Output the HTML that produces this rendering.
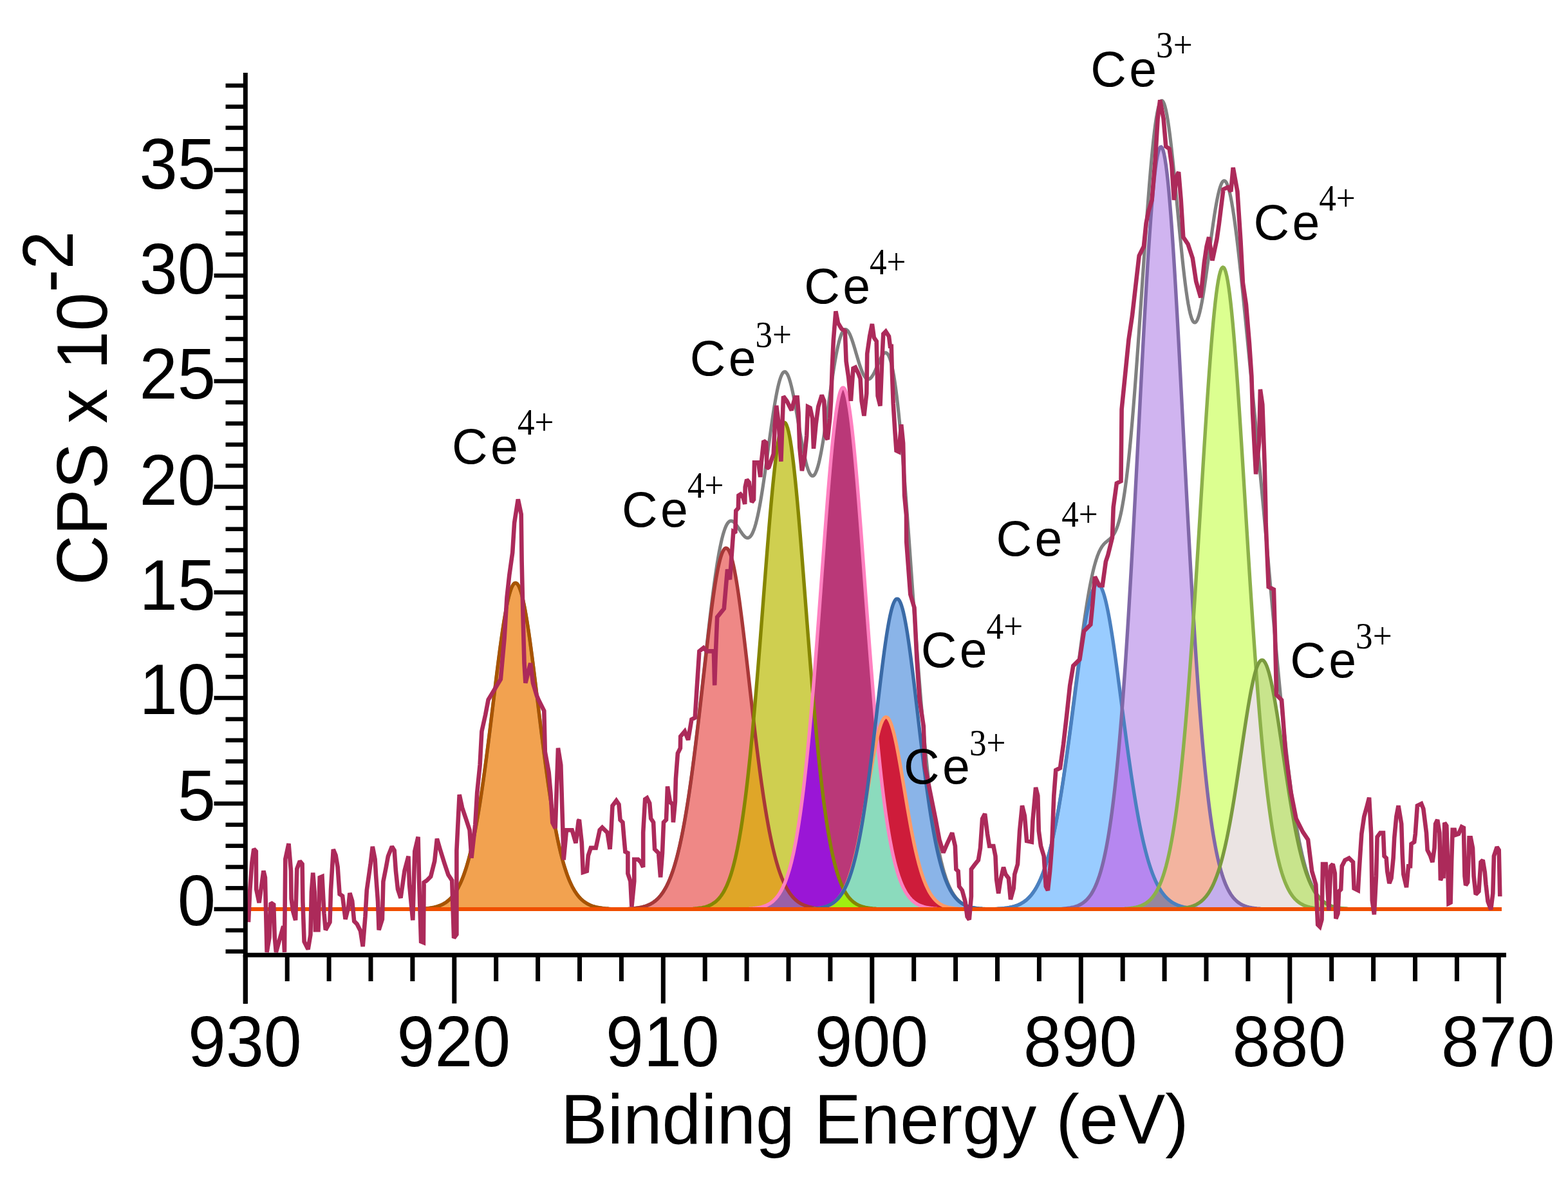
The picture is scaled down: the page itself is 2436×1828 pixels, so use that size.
<!DOCTYPE html>
<html><head><meta charset="utf-8"><title>XPS Ce 3d</title>
<style>html,body{margin:0;padding:0;background:#fff;width:2436px;height:1828px;overflow:hidden}svg{display:block}</style>
</head><body>
<svg width="2436" height="1828" viewBox="0 0 2436 1828">
<rect width="2436" height="1828" fill="#fff"/>
<g shape-rendering="crispEdges"><path fill="#F2A250" d="M664,1410.7 665.5,1410.6 667,1410.4 668.5,1410.2 670,1409.9 671.5,1409.7 673,1409.4 674.5,1409.1 676,1408.7 677.5,1408.3 679,1407.9 680.5,1407.4 682,1406.9 683.5,1406.4 685,1405.7 686.5,1405.1 688,1404.3 689.5,1403.5 691,1402.6 692.5,1401.7 694,1400.6 695.5,1399.4 697,1398.2 698.5,1396.8 700,1395.4 701.5,1393.8 703,1392 704.5,1390.1 706,1388.1 707.5,1385.9 709,1383.6 710.5,1381.1 712,1378.4 713.5,1375.4 715,1372.3 716.5,1369 718,1365.4 719.5,1361.6 721,1357.5 722.5,1353.2 724,1348.6 725.5,1343.7 727,1338.6 728.5,1333.1 730,1327.3 731.5,1321.2 733,1314.8 734.5,1308 736,1300.9 737.5,1293.5 739,1285.7 740.5,1277.6 742,1269.1 743.5,1260.3 745,1251.1 746.5,1241.6 748,1231.7 749.5,1221.6 751,1211.1 752.5,1200.3 754,1189.3 755.5,1178 757,1166.4 758.5,1154.7 760,1142.7 761.5,1130.6 763,1118.4 764.5,1106.1 766,1093.7 767.5,1081.4 769,1069.1 770.5,1056.8 772,1044.7 773.5,1032.8 775,1021.1 776.5,1009.7 778,998.6 779.5,988 781,977.7 782.5,968 784,958.8 785.5,950.2 787,942.2 788.5,934.9 790,928.4 791.5,922.6 793,917.6 794.5,913.4 796,910.1 797.5,907.6 799,906 800.5,905.4 802,905.6 803.5,906.7 805,908.7 806.5,911.6 808,915.4 809.5,920 811,925.4 812.5,931.5 814,938.5 815.5,946.1 817,954.4 818.5,963.3 820,972.8 821.5,982.7 823,993.2 824.5,1004.1 826,1015.3 827.5,1026.9 829,1038.7 830.5,1050.7 832,1062.9 833.5,1075.1 835,1087.5 836.5,1099.8 838,1112.2 839.5,1124.4 841,1136.6 842.5,1148.6 844,1160.5 845.5,1172.2 847,1183.6 848.5,1194.8 850,1205.7 851.5,1216.3 853,1226.6 854.5,1236.7 856,1246.3 857.5,1255.7 859,1264.7 860.5,1273.3 862,1281.7 863.5,1289.6 865,1297.2 866.5,1304.5 868,1311.4 869.5,1318 871,1324.3 872.5,1330.2 874,1335.9 875.5,1341.2 877,1346.2 878.5,1350.9 880,1355.4 881.5,1359.6 883,1363.5 884.5,1367.2 886,1370.7 887.5,1373.9 889,1376.9 890.5,1379.7 892,1382.3 893.5,1384.8 895,1387 896.5,1389.1 898,1391.1 899.5,1392.9 901,1394.6 902.5,1396.1 904,1397.5 905.5,1398.8 907,1400 908.5,1401.1 910,1402.1 911.5,1403.1 913,1403.9 914.5,1404.7 916,1405.4 917.5,1406.1 919,1406.7 920.5,1407.2 922,1407.7 923.5,1408.1 925,1408.5 926.5,1408.9 928,1409.2 929.5,1409.5 931,1409.8 932.5,1410 934,1410.3 935.5,1410.5 937,1410.6 937,1412.1 935.5,1412.1 934,1412.1 932.5,1412.1 931,1412.1 929.5,1412.1 928,1412.1 926.5,1412.1 925,1412.1 923.5,1412.1 922,1412.1 920.5,1412.1 919,1412.1 917.5,1412.1 916,1412.1 914.5,1412.1 913,1412.1 911.5,1412.1 910,1412.1 908.5,1412.1 907,1412.1 905.5,1412.1 904,1412.1 902.5,1412.1 901,1412.1 899.5,1412.1 898,1412.1 896.5,1412.1 895,1412.1 893.5,1412.1 892,1412.1 890.5,1412.1 889,1412.1 887.5,1412.1 886,1412.1 884.5,1412.1 883,1412.1 881.5,1412.1 880,1412.1 878.5,1412.1 877,1412.1 875.5,1412.1 874,1412.1 872.5,1412.1 871,1412.1 869.5,1412.1 868,1412.1 866.5,1412.1 865,1412.1 863.5,1412.1 862,1412.1 860.5,1412.1 859,1412.1 857.5,1412.1 856,1412.1 854.5,1412.1 853,1412.1 851.5,1412.1 850,1412.1 848.5,1412.1 847,1412.1 845.5,1412.1 844,1412.1 842.5,1412.1 841,1412.1 839.5,1412.1 838,1412.1 836.5,1412.1 835,1412.1 833.5,1412.1 832,1412.1 830.5,1412.1 829,1412.1 827.5,1412.1 826,1412.1 824.5,1412.1 823,1412.1 821.5,1412.1 820,1412.1 818.5,1412.1 817,1412.1 815.5,1412.1 814,1412.1 812.5,1412.1 811,1412.1 809.5,1412.1 808,1412.1 806.5,1412.1 805,1412.1 803.5,1412.1 802,1412.1 800.5,1412.1 799,1412.1 797.5,1412.1 796,1412.1 794.5,1412.1 793,1412.1 791.5,1412.1 790,1412.1 788.5,1412.1 787,1412.1 785.5,1412.1 784,1412.1 782.5,1412.1 781,1412.1 779.5,1412.1 778,1412.1 776.5,1412.1 775,1412.1 773.5,1412.1 772,1412.1 770.5,1412.1 769,1412.1 767.5,1412.1 766,1412.1 764.5,1412.1 763,1412.1 761.5,1412.1 760,1412.1 758.5,1412.1 757,1412.1 755.5,1412.1 754,1412.1 752.5,1412.1 751,1412.1 749.5,1412.1 748,1412.1 746.5,1412.1 745,1412.1 743.5,1412.1 742,1412.1 740.5,1412.1 739,1412.1 737.5,1412.1 736,1412.1 734.5,1412.1 733,1412.1 731.5,1412.1 730,1412.1 728.5,1412.1 727,1412.1 725.5,1412.1 724,1412.1 722.5,1412.1 721,1412.1 719.5,1412.1 718,1412.1 716.5,1412.1 715,1412.1 713.5,1412.1 712,1412.1 710.5,1412.1 709,1412.1 707.5,1412.1 706,1412.1 704.5,1412.1 703,1412.1 701.5,1412.1 700,1412.1 698.5,1412.1 697,1412.1 695.5,1412.1 694,1412.1 692.5,1412.1 691,1412.1 689.5,1412.1 688,1412.1 686.5,1412.1 685,1412.1 683.5,1412.1 682,1412.1 680.5,1412.1 679,1412.1 677.5,1412.1 676,1412.1 674.5,1412.1 673,1412.1 671.5,1412.1 670,1412.1 668.5,1412.1 667,1412.1 665.5,1412.1 664,1412.1Z"/><path fill="#EF8886" d="M985,1410.8 986.5,1410.6 988,1410.4 989.5,1410.2 991,1410 992.5,1409.8 994,1409.5 995.5,1409.2 997,1408.9 998.5,1408.5 1000,1408.1 1001.5,1407.7 1003,1407.2 1004.5,1406.7 1006,1406.1 1007.5,1405.5 1009,1404.8 1010.5,1404.1 1012,1403.2 1013.5,1402.4 1015,1401.4 1016.5,1400.3 1018,1399.2 1019.5,1397.9 1021,1396.6 1022.5,1395.1 1024,1393.5 1025.5,1391.8 1027,1389.9 1028.5,1387.9 1030,1385.8 1031.5,1383.4 1033,1380.9 1034.5,1378.3 1036,1375.4 1037.5,1372.3 1039,1369 1040.5,1365.5 1042,1361.7 1043.5,1357.7 1045,1353.5 1046.5,1349 1048,1344.2 1049.5,1339.1 1051,1333.7 1052.5,1328 1054,1321.9 1055.5,1315.6 1057,1308.9 1058.5,1301.9 1060,1294.5 1061.5,1286.8 1063,1278.7 1064.5,1270.3 1066,1261.5 1067.5,1252.3 1069,1242.8 1070.5,1232.9 1072,1222.6 1073.5,1212.1 1075,1201.1 1076.5,1189.9 1078,1178.4 1079.5,1166.5 1081,1154.4 1082.5,1142 1084,1129.5 1085.5,1116.7 1087,1103.7 1088.5,1090.6 1090,1077.4 1091.5,1064.2 1093,1050.9 1094.5,1037.7 1096,1024.5 1097.5,1011.5 1099,998.6 1100.5,985.9 1102,973.5 1103.5,961.4 1105,949.7 1106.5,938.4 1108,927.6 1109.5,917.3 1111,907.7 1112.5,898.6 1114,890.2 1115.5,882.5 1117,875.6 1118.5,869.5 1120,864.3 1121.5,859.9 1123,856.3 1124.5,853.7 1126,852 1127.5,851.3 1129,851.4 1130.5,852.5 1132,854.6 1133.5,857.5 1135,861.4 1136.5,866.1 1138,871.7 1139.5,878.1 1141,885.3 1142.5,893.2 1144,901.8 1145.5,911.1 1147,921.1 1148.5,931.5 1150,942.5 1151.5,954 1153,965.8 1154.5,978 1156,990.5 1157.5,1003.3 1159,1016.2 1160.5,1029.3 1162,1042.5 1163.5,1055.8 1165,1069.1 1166.5,1082.3 1168,1095.4 1169.5,1108.5 1169.5,1131.7 1168,1147.6 1166.5,1162.9 1165,1177.7 1163.5,1191.9 1162,1205.6 1160.5,1218.6 1159,1231.1 1157.5,1243 1156,1254.3 1154.5,1265.1 1153,1275.3 1151.5,1285 1150,1294.1 1148.5,1302.7 1147,1310.8 1145.5,1318.5 1144,1325.6 1142.5,1332.3 1141,1338.6 1139.5,1344.5 1138,1350 1136.5,1355.1 1135,1359.8 1133.5,1364.2 1132,1368.3 1130.5,1372.1 1129,1375.6 1127.5,1378.8 1126,1381.8 1124.5,1384.6 1123,1387.1 1121.5,1389.4 1120,1391.5 1118.5,1393.5 1117,1395.3 1115.5,1396.9 1114,1398.4 1112.5,1399.8 1111,1401 1109.5,1402.1 1108,1403.1 1106.5,1404.1 1105,1404.9 1103.5,1405.7 1102,1406.3 1100.5,1407 1099,1407.5 1097.5,1408 1096,1408.5 1094.5,1408.9 1093,1409.2 1091.5,1409.6 1090,1409.9 1088.5,1410.1 1087,1410.3 1085.5,1410.5 1084,1410.7 1082.5,1412.1 1081,1412.1 1079.5,1412.1 1078,1412.1 1076.5,1412.1 1075,1412.1 1073.5,1412.1 1072,1412.1 1070.5,1412.1 1069,1412.1 1067.5,1412.1 1066,1412.1 1064.5,1412.1 1063,1412.1 1061.5,1412.1 1060,1412.1 1058.5,1412.1 1057,1412.1 1055.5,1412.1 1054,1412.1 1052.5,1412.1 1051,1412.1 1049.5,1412.1 1048,1412.1 1046.5,1412.1 1045,1412.1 1043.5,1412.1 1042,1412.1 1040.5,1412.1 1039,1412.1 1037.5,1412.1 1036,1412.1 1034.5,1412.1 1033,1412.1 1031.5,1412.1 1030,1412.1 1028.5,1412.1 1027,1412.1 1025.5,1412.1 1024,1412.1 1022.5,1412.1 1021,1412.1 1019.5,1412.1 1018,1412.1 1016.5,1412.1 1015,1412.1 1013.5,1412.1 1012,1412.1 1010.5,1412.1 1009,1412.1 1007.5,1412.1 1006,1412.1 1004.5,1412.1 1003,1412.1 1001.5,1412.1 1000,1412.1 998.5,1412.1 997,1412.1 995.5,1412.1 994,1412.1 992.5,1412.1 991,1412.1 989.5,1412.1 988,1412.1 986.5,1412.1 985,1412.1Z"/><path fill="#DFA628" d="M1084,1410.7 1085.5,1410.5 1087,1410.3 1088.5,1410.1 1090,1409.9 1091.5,1409.6 1093,1409.2 1094.5,1408.9 1096,1408.5 1097.5,1408 1099,1407.5 1100.5,1407 1102,1406.3 1103.5,1405.7 1105,1404.9 1106.5,1404.1 1108,1403.1 1109.5,1402.1 1111,1401 1112.5,1399.8 1114,1398.4 1115.5,1396.9 1117,1395.3 1118.5,1393.5 1120,1391.5 1121.5,1389.4 1123,1387.1 1124.5,1384.6 1126,1381.8 1127.5,1378.8 1129,1375.6 1130.5,1372.1 1132,1368.3 1133.5,1364.2 1135,1359.8 1136.5,1355.1 1138,1350 1139.5,1344.5 1141,1338.6 1142.5,1332.3 1144,1325.6 1145.5,1318.5 1147,1310.8 1148.5,1302.7 1150,1294.1 1151.5,1285 1153,1275.3 1154.5,1265.1 1156,1254.3 1157.5,1243 1159,1231.1 1160.5,1218.6 1162,1205.6 1163.5,1191.9 1165,1177.7 1166.5,1162.9 1168,1147.6 1169.5,1131.7 1171,1121.4 1172.5,1134.1 1174,1146.6 1175.5,1158.9 1177,1170.9 1178.5,1182.6 1180,1194.1 1181.5,1205.2 1183,1216 1184.5,1226.4 1186,1236.6 1187.5,1246.3 1189,1255.7 1190.5,1264.7 1192,1273.4 1193.5,1281.7 1195,1289.7 1196.5,1297.3 1198,1304.5 1199.5,1311.4 1201,1318 1202.5,1324.2 1204,1330.1 1205.5,1335.7 1207,1341 1208.5,1346 1210,1350.7 1211.5,1355.1 1213,1359.2 1214.5,1363.2 1216,1366.8 1217.5,1370.3 1217.5,1375.4 1216,1378.7 1214.5,1381.6 1213,1384.4 1211.5,1386.9 1210,1389.2 1208.5,1391.3 1207,1393.3 1205.5,1395.1 1204,1396.7 1202.5,1398.2 1201,1399.6 1199.5,1400.8 1198,1401.9 1196.5,1403 1195,1403.9 1193.5,1404.7 1192,1405.5 1190.5,1406.2 1189,1406.8 1187.5,1407.4 1186,1407.9 1184.5,1408.3 1183,1408.8 1181.5,1409.1 1180,1409.5 1178.5,1409.8 1177,1410 1175.5,1410.3 1174,1410.5 1172.5,1410.7 1171,1412.1 1169.5,1412.1 1168,1412.1 1166.5,1412.1 1165,1412.1 1163.5,1412.1 1162,1412.1 1160.5,1412.1 1159,1412.1 1157.5,1412.1 1156,1412.1 1154.5,1412.1 1153,1412.1 1151.5,1412.1 1150,1412.1 1148.5,1412.1 1147,1412.1 1145.5,1412.1 1144,1412.1 1142.5,1412.1 1141,1412.1 1139.5,1412.1 1138,1412.1 1136.5,1412.1 1135,1412.1 1133.5,1412.1 1132,1412.1 1130.5,1412.1 1129,1412.1 1127.5,1412.1 1126,1412.1 1124.5,1412.1 1123,1412.1 1121.5,1412.1 1120,1412.1 1118.5,1412.1 1117,1412.1 1115.5,1412.1 1114,1412.1 1112.5,1412.1 1111,1412.1 1109.5,1412.1 1108,1412.1 1106.5,1412.1 1105,1412.1 1103.5,1412.1 1102,1412.1 1100.5,1412.1 1099,1412.1 1097.5,1412.1 1096,1412.1 1094.5,1412.1 1093,1412.1 1091.5,1412.1 1090,1412.1 1088.5,1412.1 1087,1412.1 1085.5,1412.1 1084,1412.1Z"/><path fill="#CFCF50" d="M1171,1115.3 1172.5,1098.4 1174,1081.1 1175.5,1063.3 1177,1045.1 1178.5,1026.5 1180,1007.7 1181.5,988.6 1183,969.3 1184.5,949.9 1186,930.4 1187.5,911 1189,891.6 1190.5,872.4 1192,853.5 1193.5,834.9 1195,816.8 1196.5,799.2 1198,782.3 1199.5,766 1201,750.6 1202.5,736.1 1204,722.5 1205.5,710 1207,698.7 1208.5,688.6 1210,679.7 1211.5,672.2 1213,666.1 1214.5,661.4 1216,658.2 1217.5,656.4 1219,656.1 1220.5,657.4 1222,660.1 1223.5,664.3 1225,669.9 1226.5,677 1228,685.3 1229.5,695 1231,706 1232.5,718.1 1234,731.2 1235.5,745.5 1237,760.6 1238.5,776.6 1240,793.3 1241.5,810.7 1243,828.6 1244.5,847 1246,865.8 1247.5,884.9 1249,904.2 1250.5,923.7 1252,943.1 1253.5,962.6 1255,981.9 1256.5,1001.1 1258,1020 1259.5,1038.7 1261,1057 1262.5,1075 1262.5,1080.2 1261,1097.9 1259.5,1115 1258,1131.7 1256.5,1147.7 1255,1163.2 1253.5,1178 1252,1192.3 1250.5,1206 1249,1219.1 1247.5,1231.6 1246,1243.5 1244.5,1254.8 1243,1265.5 1241.5,1275.7 1240,1285.3 1238.5,1294.4 1237,1303 1235.5,1311.1 1234,1318.6 1232.5,1325.8 1231,1332.4 1229.5,1338.7 1228,1344.5 1226.5,1350 1225,1355 1223.5,1359.7 1222,1364.1 1220.5,1368.2 1219,1372 1217.5,1370.3 1216,1366.8 1214.5,1363.2 1213,1359.2 1211.5,1355.1 1210,1350.7 1208.5,1346 1207,1341 1205.5,1335.7 1204,1330.1 1202.5,1324.2 1201,1318 1199.5,1311.4 1198,1304.5 1196.5,1297.3 1195,1289.7 1193.5,1281.7 1192,1273.4 1190.5,1264.7 1189,1255.7 1187.5,1246.3 1186,1236.6 1184.5,1226.4 1183,1216 1181.5,1205.2 1180,1194.1 1178.5,1182.6 1177,1170.9 1175.5,1158.9 1174,1146.6 1172.5,1134.1 1171,1121.4Z"/><path fill="#9A60A8" d="M1172.5,1410.7 1174,1410.5 1175.5,1410.3 1177,1410 1178.5,1409.8 1180,1409.5 1181.5,1409.1 1183,1408.8 1184.5,1408.3 1186,1407.9 1187.5,1407.4 1189,1406.8 1190.5,1406.2 1192,1405.5 1193.5,1404.7 1195,1403.9 1196.5,1403 1198,1401.9 1199.5,1400.8 1201,1399.6 1202.5,1398.2 1204,1396.7 1205.5,1395.1 1207,1393.3 1208.5,1391.3 1210,1389.2 1211.5,1386.9 1213,1384.4 1214.5,1381.6 1216,1378.7 1217.5,1375.4 1219,1373.5 1220.5,1376.5 1222,1379.3 1223.5,1381.9 1225,1384.3 1226.5,1386.6 1228,1388.7 1229.5,1390.6 1231,1392.4 1232.5,1394.1 1234,1395.6 1235.5,1397.1 1237,1398.4 1238.5,1399.6 1240,1400.7 1241.5,1401.7 1243,1402.7 1244.5,1403.6 1246,1404.4 1247.5,1405.1 1249,1405.7 1250.5,1406.4 1252,1406.9 1253.5,1407.4 1255,1407.9 1256.5,1408.3 1258,1408.7 1259.5,1409 1261,1409.3 1262.5,1409.6 1264,1409.9 1265.5,1410.1 1267,1410.3 1268.5,1410.5 1268.5,1412.1 1267,1412.1 1265.5,1412.1 1264,1412.1 1262.5,1412.1 1261,1412.1 1259.5,1412.1 1258,1412.1 1256.5,1412.1 1255,1412.1 1253.5,1412.1 1252,1412.1 1250.5,1412.1 1249,1412.1 1247.5,1412.1 1246,1412.1 1244.5,1412.1 1243,1412.1 1241.5,1412.1 1240,1412.1 1238.5,1412.1 1237,1412.1 1235.5,1412.1 1234,1412.1 1232.5,1412.1 1231,1412.1 1229.5,1412.1 1228,1412.1 1226.5,1412.1 1225,1412.1 1223.5,1412.1 1222,1412.1 1220.5,1412.1 1219,1412.1 1217.5,1412.1 1216,1412.1 1214.5,1412.1 1213,1412.1 1211.5,1412.1 1210,1412.1 1208.5,1412.1 1207,1412.1 1205.5,1412.1 1204,1412.1 1202.5,1412.1 1201,1412.1 1199.5,1412.1 1198,1412.1 1196.5,1412.1 1195,1412.1 1193.5,1412.1 1192,1412.1 1190.5,1412.1 1189,1412.1 1187.5,1412.1 1186,1412.1 1184.5,1412.1 1183,1412.1 1181.5,1412.1 1180,1412.1 1178.5,1412.1 1177,1412.1 1175.5,1412.1 1174,1412.1 1172.5,1412.1Z"/><path fill="#9A16D6" d="M1219,1372 1220.5,1368.2 1222,1364.1 1223.5,1359.7 1225,1355 1226.5,1350 1228,1344.5 1229.5,1338.7 1231,1332.4 1232.5,1325.8 1234,1318.6 1235.5,1311.1 1237,1303 1238.5,1294.4 1240,1285.3 1241.5,1275.7 1243,1265.5 1244.5,1254.8 1246,1243.5 1247.5,1231.6 1249,1219.1 1250.5,1206 1252,1192.3 1253.5,1178 1255,1163.2 1256.5,1147.7 1258,1131.7 1259.5,1115 1261,1097.9 1262.5,1080.2 1264,1092.5 1265.5,1109.5 1267,1126.1 1268.5,1142.2 1270,1157.7 1271.5,1172.7 1273,1187.1 1274.5,1200.9 1276,1214.2 1277.5,1226.8 1279,1238.9 1280.5,1250.5 1282,1261.4 1283.5,1271.8 1285,1281.7 1286.5,1291 1288,1299.8 1289.5,1308.1 1291,1315.9 1292.5,1323.2 1294,1330.1 1295.5,1336.5 1297,1342.5 1298.5,1348.1 1300,1353.3 1301.5,1358.2 1303,1362.7 1304.5,1366.9 1306,1370.8 1307.5,1374.4 1309,1377.7 1310.5,1380.8 1310.5,1383 1309,1385.7 1307.5,1388.2 1306,1390.5 1304.5,1392.6 1303,1394.4 1301.5,1396.1 1300,1397.6 1298.5,1399 1297,1400.3 1295.5,1401.5 1294,1402.6 1292.5,1403.5 1291,1404.4 1289.5,1405.2 1288,1405.9 1286.5,1406.6 1285,1407.2 1283.5,1407.7 1282,1408.2 1280.5,1408.6 1279,1409 1277.5,1409.4 1276,1409.7 1274.5,1409.9 1273,1410.2 1271.5,1410.4 1270,1410.6 1268.5,1410.5 1267,1410.3 1265.5,1410.1 1264,1409.9 1262.5,1409.6 1261,1409.3 1259.5,1409 1258,1408.7 1256.5,1408.3 1255,1407.9 1253.5,1407.4 1252,1406.9 1250.5,1406.4 1249,1405.7 1247.5,1405.1 1246,1404.4 1244.5,1403.6 1243,1402.7 1241.5,1401.7 1240,1400.7 1238.5,1399.6 1237,1398.4 1235.5,1397.1 1234,1395.6 1232.5,1394.1 1231,1392.4 1229.5,1390.6 1228,1388.7 1226.5,1386.6 1225,1384.3 1223.5,1381.9 1222,1379.3 1220.5,1376.5 1219,1373.5Z"/><path fill="#BA3878" d="M1264,1062.1 1265.5,1043.4 1267,1024.4 1268.5,1005 1270,985.2 1271.5,965.2 1273,945 1274.5,924.6 1276,904.1 1277.5,883.6 1279,863.2 1280.5,842.9 1282,822.8 1283.5,803.1 1285,783.8 1286.5,765 1288,746.8 1289.5,729.3 1291,712.5 1292.5,696.7 1294,681.8 1295.5,668 1297,655.2 1298.5,643.7 1300,633.5 1301.5,624.7 1303,617.2 1304.5,611.2 1306,606.6 1307.5,603.6 1309,602.1 1310.5,602.2 1312,603.8 1313.5,606.9 1315,611.6 1316.5,617.7 1318,625.3 1319.5,634.2 1321,644.6 1322.5,656.1 1324,668.9 1325.5,682.9 1327,697.8 1328.5,713.7 1330,730.5 1331.5,748.1 1333,766.4 1334.5,785.2 1336,804.6 1337.5,824.3 1339,844.4 1340.5,864.7 1342,885.1 1343.5,905.6 1345,926.1 1346.5,946.5 1348,966.7 1349.5,986.7 1351,1006.4 1352.5,1025.8 1354,1044.8 1355.5,1063.4 1357,1081.6 1358.5,1099.2 1360,1116.3 1360,1124.8 1358.5,1137.6 1357,1150.3 1355.5,1162.8 1354,1175.1 1352.5,1187.1 1351,1198.9 1349.5,1210.4 1348,1221.6 1346.5,1232.5 1345,1243 1343.5,1253.1 1342,1262.4 1340.5,1270.9 1339,1279.2 1337.5,1287.3 1336,1295.1 1334.5,1302.7 1333,1310 1331.5,1317 1330,1323.6 1328.5,1330 1327,1336.1 1325.5,1341.8 1324,1347.2 1322.5,1352.3 1321,1357.1 1319.5,1361.7 1318,1365.9 1316.5,1369.8 1315,1373.5 1313.5,1376.9 1312,1380.1 1310.5,1380.8 1309,1377.7 1307.5,1374.4 1306,1370.8 1304.5,1366.9 1303,1362.7 1301.5,1358.2 1300,1353.3 1298.5,1348.1 1297,1342.5 1295.5,1336.5 1294,1330.1 1292.5,1323.2 1291,1315.9 1289.5,1308.1 1288,1299.8 1286.5,1291 1285,1281.7 1283.5,1271.8 1282,1261.4 1280.5,1250.5 1279,1238.9 1277.5,1226.8 1276,1214.2 1274.5,1200.9 1273,1187.1 1271.5,1172.7 1270,1157.7 1268.5,1142.2 1267,1126.1 1265.5,1109.5 1264,1092.5Z"/><path fill="#FF43C0" d="M1270,1410.6 1271.5,1410.4 1273,1410.2 1274.5,1409.9 1276,1409.7 1277.5,1409.4 1279,1409 1280.5,1408.6 1282,1408.2 1283.5,1407.7 1285,1407.2 1286.5,1406.6 1288,1405.9 1289.5,1405.2 1291,1404.4 1292.5,1403.5 1294,1402.6 1295.5,1401.5 1297,1400.3 1298.5,1399 1300,1397.6 1301.5,1396.1 1303,1394.4 1304.5,1392.6 1304.5,1392.6 1303,1394.6 1301.5,1396.3 1300,1397.9 1298.5,1399.4 1297,1400.7 1295.5,1401.9 1294,1403 1292.5,1404 1291,1404.9 1289.5,1405.7 1288,1406.4 1286.5,1407.1 1285,1407.7 1283.5,1408.2 1282,1408.7 1280.5,1409.1 1279,1409.4 1277.5,1409.8 1276,1410.1 1274.5,1410.3 1273,1410.5 1271.5,1410.7 1270,1410.7Z"/><path fill="#A0F010" d="M1271.5,1410.7 1273,1410.5 1274.5,1410.3 1276,1410.1 1277.5,1409.8 1279,1409.4 1280.5,1409.1 1282,1408.7 1283.5,1408.2 1285,1407.7 1286.5,1407.1 1288,1406.4 1289.5,1405.7 1291,1404.9 1292.5,1404 1294,1403 1295.5,1401.9 1297,1400.7 1298.5,1399.4 1300,1397.9 1301.5,1396.3 1303,1394.6 1304.5,1392.6 1306,1390.6 1307.5,1388.5 1309,1386.1 1310.5,1383.6 1312,1383.6 1313.5,1386.2 1315,1388.6 1316.5,1390.8 1318,1392.8 1319.5,1394.7 1321,1396.4 1322.5,1397.9 1324,1399.3 1325.5,1400.6 1327,1401.7 1328.5,1402.8 1330,1403.8 1331.5,1404.6 1333,1405.4 1334.5,1406.1 1336,1406.8 1337.5,1407.3 1339,1407.9 1340.5,1408.3 1342,1408.7 1343.5,1409.1 1345,1409.5 1346.5,1409.8 1348,1410 1349.5,1410.3 1351,1410.5 1352.5,1410.7 1352.5,1412.1 1351,1412.1 1349.5,1412.1 1348,1412.1 1346.5,1412.1 1345,1412.1 1343.5,1412.1 1342,1412.1 1340.5,1412.1 1339,1412.1 1337.5,1412.1 1336,1412.1 1334.5,1412.1 1333,1412.1 1331.5,1412.1 1330,1412.1 1328.5,1412.1 1327,1412.1 1325.5,1412.1 1324,1412.1 1322.5,1412.1 1321,1412.1 1319.5,1412.1 1318,1412.1 1316.5,1412.1 1315,1412.1 1313.5,1412.1 1312,1412.1 1310.5,1412.1 1309,1412.1 1307.5,1412.1 1306,1412.1 1304.5,1412.1 1303,1412.1 1301.5,1412.1 1300,1412.1 1298.5,1412.1 1297,1412.1 1295.5,1412.1 1294,1412.1 1292.5,1412.1 1291,1412.1 1289.5,1412.1 1288,1412.1 1286.5,1412.1 1285,1412.1 1283.5,1412.1 1282,1412.1 1280.5,1412.1 1279,1412.1 1277.5,1412.1 1276,1412.1 1274.5,1412.1 1273,1412.1 1271.5,1412.1Z"/><path fill="#CEA005" d="M1306,1390.5 1307.5,1388.2 1309,1385.7 1310.5,1383 1310.5,1383.6 1309,1386.1 1307.5,1388.5 1306,1390.6Z"/><path fill="#FE90AA" d="M1312,1380.1 1313.5,1376.9 1315,1373.5 1316.5,1369.8 1318,1365.9 1319.5,1361.7 1321,1357.1 1322.5,1352.3 1324,1347.2 1325.5,1341.8 1327,1336.1 1328.5,1330 1330,1323.6 1331.5,1317 1333,1310 1334.5,1302.7 1336,1295.1 1337.5,1287.3 1339,1279.2 1340.5,1270.9 1342,1262.4 1342,1262.9 1340.5,1272.2 1339,1281.2 1337.5,1289.8 1336,1298 1334.5,1305.7 1333,1313.1 1331.5,1320.1 1330,1326.8 1328.5,1333 1327,1338.9 1325.5,1344.5 1324,1349.7 1322.5,1354.6 1321,1359.2 1319.5,1363.5 1318,1367.5 1316.5,1371.2 1315,1374.6 1313.5,1377.8 1312,1380.8Z"/><path fill="#8BDBBD" d="M1312,1380.8 1313.5,1377.8 1315,1374.6 1316.5,1371.2 1318,1367.5 1319.5,1363.5 1321,1359.2 1322.5,1354.6 1324,1349.7 1325.5,1344.5 1327,1338.9 1328.5,1333 1330,1326.8 1331.5,1320.1 1333,1313.1 1334.5,1305.7 1336,1298 1337.5,1289.8 1339,1281.2 1340.5,1272.2 1342,1262.9 1343.5,1253.7 1345,1244.8 1346.5,1235.9 1348,1226.9 1349.5,1217.9 1351,1208.9 1352.5,1200 1354,1191.2 1355.5,1182.7 1357,1174.3 1358.5,1166.3 1360,1158.7 1361.5,1151.5 1363,1148.9 1364.5,1164.3 1366,1179.1 1367.5,1193.4 1369,1207 1370.5,1220 1372,1232.5 1373.5,1244.3 1375,1255.6 1376.5,1266.3 1378,1276.4 1379.5,1286 1381,1295.1 1382.5,1303.6 1384,1311.6 1385.5,1319.2 1387,1326.3 1388.5,1332.9 1390,1339.1 1391.5,1344.9 1393,1350.3 1394.5,1355.4 1396,1360.1 1397.5,1364.4 1399,1368.5 1400.5,1372.2 1402,1375.7 1403.5,1378.9 1405,1381.8 1406.5,1384.6 1408,1387.1 1409.5,1389.4 1411,1391.5 1412.5,1393.4 1414,1395.2 1415.5,1396.8 1417,1398.3 1418.5,1399.7 1420,1400.9 1421.5,1402 1423,1403 1424.5,1404 1426,1404.8 1427.5,1405.6 1429,1406.2 1430.5,1406.9 1432,1407.4 1433.5,1407.9 1435,1408.4 1436.5,1408.8 1438,1409.2 1439.5,1409.5 1441,1409.8 1442.5,1410 1444,1410.3 1445.5,1410.5 1447,1410.7 1447,1412.1 1445.5,1412.1 1444,1412.1 1442.5,1412.1 1441,1412.1 1439.5,1412.1 1438,1412.1 1436.5,1412.1 1435,1412.1 1433.5,1412.1 1432,1412.1 1430.5,1412.1 1429,1412.1 1427.5,1412.1 1426,1412.1 1424.5,1412.1 1423,1412.1 1421.5,1412.1 1420,1412.1 1418.5,1412.1 1417,1412.1 1415.5,1412.1 1414,1412.1 1412.5,1412.1 1411,1412.1 1409.5,1412.1 1408,1412.1 1406.5,1412.1 1405,1412.1 1403.5,1412.1 1402,1412.1 1400.5,1412.1 1399,1412.1 1397.5,1412.1 1396,1412.1 1394.5,1412.1 1393,1412.1 1391.5,1412.1 1390,1412.1 1388.5,1412.1 1387,1412.1 1385.5,1412.1 1384,1412.1 1382.5,1412.1 1381,1412.1 1379.5,1412.1 1378,1412.1 1376.5,1412.1 1375,1412.1 1373.5,1412.1 1372,1412.1 1370.5,1412.1 1369,1412.1 1367.5,1412.1 1366,1412.1 1364.5,1412.1 1363,1412.1 1361.5,1412.1 1360,1412.1 1358.5,1412.1 1357,1412.1 1355.5,1412.1 1354,1412.1 1352.5,1410.7 1351,1410.5 1349.5,1410.3 1348,1410 1346.5,1409.8 1345,1409.5 1343.5,1409.1 1342,1408.7 1340.5,1408.3 1339,1407.9 1337.5,1407.3 1336,1406.8 1334.5,1406.1 1333,1405.4 1331.5,1404.6 1330,1403.8 1328.5,1402.8 1327,1401.7 1325.5,1400.6 1324,1399.3 1322.5,1397.9 1321,1396.4 1319.5,1394.7 1318,1392.8 1316.5,1390.8 1315,1388.6 1313.5,1386.2 1312,1383.6Z"/><path fill="#CF736F" d="M1343.5,1253.1 1345,1243 1346.5,1232.5 1348,1221.6 1349.5,1210.4 1351,1198.9 1352.5,1187.1 1354,1175.1 1355.5,1162.8 1357,1150.3 1358.5,1137.6 1360,1124.8 1361.5,1132.9 1361.5,1151.5 1360,1158.7 1358.5,1166.3 1357,1174.3 1355.5,1182.7 1354,1191.2 1352.5,1200 1351,1208.9 1349.5,1217.9 1348,1226.9 1346.5,1235.9 1345,1244.8 1343.5,1253.7Z"/><path fill="#8AB4E8" d="M1361.5,1112 1363,1099.1 1364.5,1086.3 1366,1073.6 1367.5,1061 1369,1048.7 1370.5,1036.6 1372,1024.9 1373.5,1013.5 1375,1002.7 1376.5,992.4 1378,982.6 1379.5,973.6 1381,965.3 1382.5,957.7 1384,951 1385.5,945.1 1387,940.1 1388.5,936.1 1390,933.1 1391.5,931.1 1393,930.1 1394.5,930.1 1396,931.1 1397.5,933.1 1399,936.2 1400.5,940.2 1402,945.2 1403.5,951 1405,957.8 1406.5,965.4 1408,973.7 1409.5,982.8 1411,992.5 1412.5,1002.8 1414,1013.7 1415.5,1025 1417,1036.8 1418.5,1048.9 1420,1061.2 1421.5,1073.8 1423,1086.5 1424.5,1099.3 1426,1112.2 1427.5,1125 1429,1137.8 1430.5,1150.4 1432,1162.9 1433.5,1175.2 1435,1187.3 1436.5,1199.1 1438,1210.6 1439.5,1221.8 1441,1232.6 1442.5,1243.1 1444,1253.3 1445.5,1263 1447,1272.4 1448.5,1281.3 1450,1289.9 1451.5,1298.1 1453,1305.8 1454.5,1313.2 1456,1320.2 1457.5,1326.9 1459,1333.1 1460.5,1339 1462,1344.6 1463.5,1349.8 1465,1354.7 1466.5,1359.2 1468,1363.5 1469.5,1367.5 1471,1371.2 1472.5,1374.7 1474,1377.9 1475.5,1380.9 1477,1383.6 1478.5,1386.1 1480,1388.5 1481.5,1390.6 1483,1392.6 1484.5,1394.5 1486,1396.1 1487.5,1397.7 1489,1399.1 1490.5,1400.3 1492,1401.5 1493.5,1402.6 1495,1403.5 1496.5,1404.4 1498,1405.2 1499.5,1405.9 1501,1406.6 1502.5,1407.2 1504,1407.7 1505.5,1408.2 1507,1408.6 1508.5,1409 1510,1409.4 1511.5,1409.7 1513,1409.9 1514.5,1410.2 1516,1410.4 1517.5,1410.6 1517.5,1412.1 1516,1412.1 1514.5,1412.1 1513,1412.1 1511.5,1412.1 1510,1412.1 1508.5,1412.1 1507,1412.1 1505.5,1412.1 1504,1412.1 1502.5,1412.1 1501,1412.1 1499.5,1412.1 1498,1412.1 1496.5,1412.1 1495,1412.1 1493.5,1412.1 1492,1412.1 1490.5,1412.1 1489,1412.1 1487.5,1412.1 1486,1412.1 1484.5,1412.1 1483,1412.1 1481.5,1410.7 1480,1410.5 1478.5,1410.3 1477,1410 1475.5,1409.8 1474,1409.4 1472.5,1409.1 1471,1408.6 1469.5,1408.2 1468,1407.6 1466.5,1407.1 1465,1406.4 1463.5,1405.7 1462,1404.9 1460.5,1404 1459,1403 1457.5,1401.9 1456,1400.7 1454.5,1399.3 1453,1397.8 1451.5,1396.2 1450,1394.5 1448.5,1392.5 1447,1390.4 1445.5,1388.1 1444,1385.6 1442.5,1382.9 1441,1379.9 1439.5,1376.7 1438,1373.3 1436.5,1369.6 1435,1365.7 1433.5,1361.4 1432,1356.9 1430.5,1352.1 1429,1346.9 1427.5,1341.5 1426,1335.7 1424.5,1329.7 1423,1323.3 1421.5,1316.6 1420,1309.6 1418.5,1302.3 1417,1294.7 1415.5,1286.9 1414,1278.8 1412.5,1270.4 1411,1261.9 1409.5,1253.2 1408,1244.3 1406.5,1235.4 1405,1226.4 1403.5,1217.4 1402,1208.4 1400.5,1199.5 1399,1190.7 1397.5,1182.2 1396,1173.9 1394.5,1165.9 1393,1158.3 1391.5,1151.1 1390,1144.4 1388.5,1138.2 1387,1132.7 1385.5,1127.7 1384,1123.5 1382.5,1120 1381,1117.2 1379.5,1115.2 1378,1114 1376.5,1113.6 1375,1114 1373.5,1115.3 1372,1117.3 1370.5,1120.1 1369,1123.7 1367.5,1128 1366,1132.9 1364.5,1138.5 1363,1144.7 1361.5,1132.9Z"/><path fill="#CE1C3A" d="M1363,1144.7 1364.5,1138.5 1366,1132.9 1367.5,1128 1369,1123.7 1370.5,1120.1 1372,1117.3 1373.5,1115.3 1375,1114 1376.5,1113.6 1378,1114 1379.5,1115.2 1381,1117.2 1382.5,1120 1384,1123.5 1385.5,1127.7 1387,1132.7 1388.5,1138.2 1390,1144.4 1391.5,1151.1 1393,1158.3 1394.5,1165.9 1396,1173.9 1397.5,1182.2 1399,1190.7 1400.5,1199.5 1402,1208.4 1403.5,1217.4 1405,1226.4 1406.5,1235.4 1408,1244.3 1409.5,1253.2 1411,1261.9 1412.5,1270.4 1414,1278.8 1415.5,1286.9 1417,1294.7 1418.5,1302.3 1420,1309.6 1421.5,1316.6 1423,1323.3 1424.5,1329.7 1426,1335.7 1427.5,1341.5 1429,1346.9 1430.5,1352.1 1432,1356.9 1433.5,1361.4 1435,1365.7 1436.5,1369.6 1438,1373.3 1439.5,1376.7 1441,1379.9 1442.5,1382.9 1444,1385.6 1445.5,1388.1 1447,1390.4 1448.5,1392.5 1450,1394.5 1451.5,1396.2 1453,1397.8 1454.5,1399.3 1456,1400.7 1457.5,1401.9 1459,1403 1460.5,1404 1462,1404.9 1463.5,1405.7 1465,1406.4 1466.5,1407.1 1468,1407.6 1469.5,1408.2 1471,1408.6 1472.5,1409.1 1474,1409.4 1475.5,1409.8 1477,1410 1478.5,1410.3 1480,1410.5 1481.5,1410.7 1481.5,1412.1 1480,1412.1 1478.5,1412.1 1477,1412.1 1475.5,1412.1 1474,1412.1 1472.5,1412.1 1471,1412.1 1469.5,1412.1 1468,1412.1 1466.5,1412.1 1465,1412.1 1463.5,1412.1 1462,1412.1 1460.5,1412.1 1459,1412.1 1457.5,1412.1 1456,1412.1 1454.5,1412.1 1453,1412.1 1451.5,1412.1 1450,1412.1 1448.5,1412.1 1447,1410.7 1445.5,1410.5 1444,1410.3 1442.5,1410 1441,1409.8 1439.5,1409.5 1438,1409.2 1436.5,1408.8 1435,1408.4 1433.5,1407.9 1432,1407.4 1430.5,1406.9 1429,1406.2 1427.5,1405.6 1426,1404.8 1424.5,1404 1423,1403 1421.5,1402 1420,1400.9 1418.5,1399.7 1417,1398.3 1415.5,1396.8 1414,1395.2 1412.5,1393.4 1411,1391.5 1409.5,1389.4 1408,1387.1 1406.5,1384.6 1405,1381.8 1403.5,1378.9 1402,1375.7 1400.5,1372.2 1399,1368.5 1397.5,1364.4 1396,1360.1 1394.5,1355.4 1393,1350.3 1391.5,1344.9 1390,1339.1 1388.5,1332.9 1387,1326.3 1385.5,1319.2 1384,1311.6 1382.5,1303.6 1381,1295.1 1379.5,1286 1378,1276.4 1376.5,1266.3 1375,1255.6 1373.5,1244.3 1372,1232.5 1370.5,1220 1369,1207 1367.5,1193.4 1366,1179.1 1364.5,1164.3 1363,1148.9Z"/><path fill="#99CCFF" d="M1558,1410.8 1559.5,1410.6 1561,1410.5 1562.5,1410.3 1564,1410.1 1565.5,1409.8 1567,1409.6 1568.5,1409.3 1570,1409 1571.5,1408.7 1573,1408.3 1574.5,1408 1576,1407.5 1577.5,1407.1 1579,1406.5 1580.5,1406 1582,1405.4 1583.5,1404.7 1585,1404 1586.5,1403.2 1588,1402.3 1589.5,1401.4 1591,1400.4 1592.5,1399.3 1594,1398.2 1595.5,1396.9 1597,1395.5 1598.5,1394 1600,1392.5 1601.5,1390.7 1603,1388.9 1604.5,1386.9 1606,1384.8 1607.5,1382.6 1609,1380.1 1610.5,1377.6 1612,1374.8 1613.5,1371.8 1615,1368.7 1616.5,1365.4 1618,1361.8 1619.5,1358.1 1621,1354.1 1622.5,1349.8 1624,1345.4 1625.5,1340.6 1627,1335.7 1628.5,1330.4 1630,1324.9 1631.5,1319.1 1633,1313 1634.5,1306.7 1636,1300 1637.5,1293 1639,1285.8 1640.5,1278.2 1642,1270.3 1643.5,1262.2 1645,1253.7 1646.5,1244.9 1648,1235.9 1649.5,1226.5 1651,1216.9 1652.5,1207 1654,1196.9 1655.5,1186.6 1657,1176 1658.5,1165.2 1660,1154.2 1661.5,1143.1 1663,1131.9 1664.5,1120.5 1666,1109.1 1667.5,1097.6 1669,1086.1 1670.5,1074.6 1672,1063.2 1673.5,1051.9 1675,1040.7 1676.5,1029.7 1678,1018.9 1679.5,1008.4 1681,998.2 1682.5,988.3 1684,978.8 1685.5,969.8 1687,961.2 1688.5,953.1 1690,945.6 1691.5,938.6 1693,932.3 1694.5,926.6 1696,921.6 1697.5,917.3 1699,913.7 1700.5,910.9 1702,908.8 1703.5,907.5 1705,907 1706.5,907.2 1708,908.3 1709.5,910.1 1711,912.7 1712.5,916 1714,920 1715.5,924.8 1717,930.2 1718.5,936.3 1720,943.1 1721.5,950.4 1723,958.3 1724.5,966.7 1726,975.6 1727.5,985 1729,994.7 1730.5,1004.8 1732,1015.3 1733.5,1026 1735,1036.9 1736.5,1048 1738,1059.3 1739.5,1070.7 1741,1082.1 1742.5,1093.6 1742.5,1111.1 1741,1129.6 1739.5,1147.3 1738,1164.2 1736.5,1180.3 1735,1195.6 1733.5,1210.2 1732,1224 1730.5,1237 1729,1249.3 1727.5,1261 1726,1271.9 1724.5,1282.2 1723,1291.9 1721.5,1301 1720,1309.5 1718.5,1317.5 1717,1324.9 1715.5,1331.9 1714,1338.4 1712.5,1344.4 1711,1350 1709.5,1355.2 1708,1360 1706.5,1364.4 1705,1368.6 1703.5,1372.4 1702,1375.9 1700.5,1379.1 1699,1382.1 1697.5,1384.8 1696,1387.4 1694.5,1389.7 1693,1391.8 1691.5,1393.7 1690,1395.5 1688.5,1397.1 1687,1398.6 1685.5,1399.9 1684,1401.1 1682.5,1402.2 1681,1403.2 1679.5,1404.1 1678,1405 1676.5,1405.7 1675,1406.4 1673.5,1407 1672,1407.5 1670.5,1408 1669,1408.5 1667.5,1408.9 1666,1409.2 1664.5,1409.5 1663,1409.8 1661.5,1410.1 1660,1410.3 1658.5,1410.5 1657,1410.7 1655.5,1412.1 1654,1412.1 1652.5,1412.1 1651,1412.1 1649.5,1412.1 1648,1412.1 1646.5,1412.1 1645,1412.1 1643.5,1412.1 1642,1412.1 1640.5,1412.1 1639,1412.1 1637.5,1412.1 1636,1412.1 1634.5,1412.1 1633,1412.1 1631.5,1412.1 1630,1412.1 1628.5,1412.1 1627,1412.1 1625.5,1412.1 1624,1412.1 1622.5,1412.1 1621,1412.1 1619.5,1412.1 1618,1412.1 1616.5,1412.1 1615,1412.1 1613.5,1412.1 1612,1412.1 1610.5,1412.1 1609,1412.1 1607.5,1412.1 1606,1412.1 1604.5,1412.1 1603,1412.1 1601.5,1412.1 1600,1412.1 1598.5,1412.1 1597,1412.1 1595.5,1412.1 1594,1412.1 1592.5,1412.1 1591,1412.1 1589.5,1412.1 1588,1412.1 1586.5,1412.1 1585,1412.1 1583.5,1412.1 1582,1412.1 1580.5,1412.1 1579,1412.1 1577.5,1412.1 1576,1412.1 1574.5,1412.1 1573,1412.1 1571.5,1412.1 1570,1412.1 1568.5,1412.1 1567,1412.1 1565.5,1412.1 1564,1412.1 1562.5,1412.1 1561,1412.1 1559.5,1412.1 1558,1412.1Z"/><path fill="#B687F0" d="M1657,1410.7 1658.5,1410.5 1660,1410.3 1661.5,1410.1 1663,1409.8 1664.5,1409.5 1666,1409.2 1667.5,1408.9 1669,1408.5 1670.5,1408 1672,1407.5 1673.5,1407 1675,1406.4 1676.5,1405.7 1678,1405 1679.5,1404.1 1681,1403.2 1682.5,1402.2 1684,1401.1 1685.5,1399.9 1687,1398.6 1688.5,1397.1 1690,1395.5 1691.5,1393.7 1693,1391.8 1694.5,1389.7 1696,1387.4 1697.5,1384.8 1699,1382.1 1700.5,1379.1 1702,1375.9 1703.5,1372.4 1705,1368.6 1706.5,1364.4 1708,1360 1709.5,1355.2 1711,1350 1712.5,1344.4 1714,1338.4 1715.5,1331.9 1717,1324.9 1718.5,1317.5 1720,1309.5 1721.5,1301 1723,1291.9 1724.5,1282.2 1726,1271.9 1727.5,1261 1729,1249.3 1730.5,1237 1732,1224 1733.5,1210.2 1735,1195.6 1736.5,1180.3 1738,1164.2 1739.5,1147.3 1741,1129.6 1742.5,1111.1 1744,1105.1 1745.5,1116.5 1747,1127.9 1748.5,1139.2 1750,1150.4 1751.5,1161.4 1753,1172.3 1754.5,1182.9 1756,1193.4 1757.5,1203.6 1759,1213.5 1760.5,1223.2 1762,1232.7 1763.5,1241.8 1765,1250.7 1766.5,1259.2 1768,1267.5 1769.5,1275.5 1771,1283.2 1772.5,1290.5 1774,1297.6 1775.5,1304.4 1777,1310.9 1778.5,1317 1780,1322.9 1781.5,1328.5 1783,1333.9 1784.5,1339 1786,1343.8 1787.5,1348.3 1789,1352.6 1790.5,1356.7 1792,1360.5 1793.5,1364.2 1795,1367.6 1796.5,1370.8 1798,1373.8 1799.5,1376.6 1799.5,1379 1798,1382 1796.5,1384.7 1795,1387.1 1793.5,1389.4 1792,1391.5 1790.5,1393.4 1789,1395.2 1787.5,1396.8 1786,1398.3 1784.5,1399.6 1783,1400.8 1781.5,1401.9 1780,1402.9 1778.5,1403.9 1777,1404.7 1775.5,1405.5 1774,1406.1 1772.5,1406.8 1771,1407.3 1769.5,1407.8 1768,1408.3 1766.5,1408.7 1765,1409.1 1763.5,1409.4 1762,1409.7 1760.5,1410 1759,1410.2 1757.5,1410.4 1756,1410.6 1754.5,1410.8 1753,1412.1 1751.5,1412.1 1750,1412.1 1748.5,1412.1 1747,1412.1 1745.5,1412.1 1744,1412.1 1742.5,1412.1 1741,1412.1 1739.5,1412.1 1738,1412.1 1736.5,1412.1 1735,1412.1 1733.5,1412.1 1732,1412.1 1730.5,1412.1 1729,1412.1 1727.5,1412.1 1726,1412.1 1724.5,1412.1 1723,1412.1 1721.5,1412.1 1720,1412.1 1718.5,1412.1 1717,1412.1 1715.5,1412.1 1714,1412.1 1712.5,1412.1 1711,1412.1 1709.5,1412.1 1708,1412.1 1706.5,1412.1 1705,1412.1 1703.5,1412.1 1702,1412.1 1700.5,1412.1 1699,1412.1 1697.5,1412.1 1696,1412.1 1694.5,1412.1 1693,1412.1 1691.5,1412.1 1690,1412.1 1688.5,1412.1 1687,1412.1 1685.5,1412.1 1684,1412.1 1682.5,1412.1 1681,1412.1 1679.5,1412.1 1678,1412.1 1676.5,1412.1 1675,1412.1 1673.5,1412.1 1672,1412.1 1670.5,1412.1 1669,1412.1 1667.5,1412.1 1666,1412.1 1664.5,1412.1 1663,1412.1 1661.5,1412.1 1660,1412.1 1658.5,1412.1 1657,1412.1Z"/><path fill="#D0B4F0" d="M1744,1091.7 1745.5,1071.5 1747,1050.5 1748.5,1028.7 1750,1006.1 1751.5,982.7 1753,958.6 1754.5,933.7 1756,908.2 1757.5,882 1759,855.2 1760.5,827.9 1762,800.1 1763.5,771.8 1765,743.3 1766.5,714.5 1768,685.5 1769.5,656.5 1771,627.5 1772.5,598.6 1774,570 1775.5,541.7 1777,513.9 1778.5,486.8 1780,460.3 1781.5,434.7 1783,410.1 1784.5,386.5 1786,364.2 1787.5,343.3 1789,323.7 1790.5,305.8 1792,289.5 1793.5,274.9 1795,262.2 1796.5,251.4 1798,242.6 1799.5,235.9 1801,231.2 1802.5,228.6 1804,228.1 1805.5,229.8 1807,233.5 1808.5,239.4 1810,247.3 1811.5,257.2 1813,269.1 1814.5,282.8 1816,298.3 1817.5,315.6 1819,334.4 1820.5,354.7 1822,376.5 1823.5,399.5 1825,423.6 1826.5,448.8 1828,474.9 1829.5,501.8 1831,529.3 1832.5,557.4 1834,585.8 1835.5,614.6 1837,643.6 1838.5,672.6 1840,701.6 1841.5,730.5 1843,759.2 1844.5,787.6 1846,815.5 1847.5,843.1 1849,870.1 1850.5,896.6 1852,922.4 1853.5,947.6 1853.5,970 1852,991.9 1850.5,1013.3 1849,1034.1 1847.5,1054.2 1846,1073.8 1844.5,1092.6 1843,1110.9 1841.5,1128.4 1840,1145.2 1838.5,1161.4 1837,1176.8 1835.5,1191.6 1834,1205.7 1832.5,1219.1 1831,1231.9 1829.5,1244 1828,1255.5 1826.5,1266.4 1825,1276.6 1823.5,1286.3 1822,1295.5 1820.5,1304 1819,1312.1 1817.5,1319.7 1816,1326.8 1814.5,1333.4 1813,1339.6 1811.5,1345.4 1810,1350.7 1808.5,1355.7 1807,1360.4 1805.5,1364.7 1804,1368.7 1802.5,1372.4 1801,1375.9 1799.5,1376.6 1798,1373.8 1796.5,1370.8 1795,1367.6 1793.5,1364.2 1792,1360.5 1790.5,1356.7 1789,1352.6 1787.5,1348.3 1786,1343.8 1784.5,1339 1783,1333.9 1781.5,1328.5 1780,1322.9 1778.5,1317 1777,1310.9 1775.5,1304.4 1774,1297.6 1772.5,1290.5 1771,1283.2 1769.5,1275.5 1768,1267.5 1766.5,1259.2 1765,1250.7 1763.5,1241.8 1762,1232.7 1760.5,1223.2 1759,1213.5 1757.5,1203.6 1756,1193.4 1754.5,1182.9 1753,1172.3 1751.5,1161.4 1750,1150.4 1748.5,1139.2 1747,1127.9 1745.5,1116.5 1744,1105.1Z"/><path fill="#95879F" d="M1754.5,1410.8 1756,1410.6 1757.5,1410.4 1759,1410.2 1760.5,1410 1762,1409.7 1763.5,1409.4 1765,1409.1 1766.5,1408.7 1768,1408.3 1769.5,1407.8 1771,1407.3 1772.5,1406.8 1774,1406.1 1775.5,1405.5 1777,1404.7 1778.5,1403.9 1780,1402.9 1781.5,1401.9 1783,1400.8 1784.5,1399.6 1786,1398.3 1787.5,1396.8 1789,1395.2 1790.5,1393.4 1792,1391.5 1793.5,1389.4 1795,1387.1 1796.5,1384.7 1798,1382 1799.5,1379 1801,1379.3 1802.5,1381.7 1804,1384.1 1805.5,1386.2 1807,1388.2 1808.5,1390.1 1810,1391.9 1811.5,1393.5 1813,1395 1814.5,1396.4 1816,1397.7 1817.5,1398.9 1819,1400 1820.5,1401.1 1822,1402 1823.5,1402.9 1825,1403.7 1826.5,1404.5 1828,1405.1 1829.5,1405.8 1831,1406.4 1832.5,1406.9 1834,1407.4 1835.5,1407.8 1837,1408.2 1838.5,1408.6 1840,1408.9 1841.5,1409.2 1843,1409.5 1843,1409.8 1841.5,1410 1840,1410.3 1838.5,1410.5 1837,1410.7 1835.5,1412.1 1834,1412.1 1832.5,1412.1 1831,1412.1 1829.5,1412.1 1828,1412.1 1826.5,1412.1 1825,1412.1 1823.5,1412.1 1822,1412.1 1820.5,1412.1 1819,1412.1 1817.5,1412.1 1816,1412.1 1814.5,1412.1 1813,1412.1 1811.5,1412.1 1810,1412.1 1808.5,1412.1 1807,1412.1 1805.5,1412.1 1804,1412.1 1802.5,1412.1 1801,1412.1 1799.5,1412.1 1798,1412.1 1796.5,1412.1 1795,1412.1 1793.5,1412.1 1792,1412.1 1790.5,1412.1 1789,1412.1 1787.5,1412.1 1786,1412.1 1784.5,1412.1 1783,1412.1 1781.5,1412.1 1780,1412.1 1778.5,1412.1 1777,1412.1 1775.5,1412.1 1774,1412.1 1772.5,1412.1 1771,1412.1 1769.5,1412.1 1768,1412.1 1766.5,1412.1 1765,1412.1 1763.5,1412.1 1762,1412.1 1760.5,1412.1 1759,1412.1 1757.5,1412.1 1756,1412.1 1754.5,1412.1Z"/><path fill="#F3B49F" d="M1801,1375.9 1802.5,1372.4 1804,1368.7 1805.5,1364.7 1807,1360.4 1808.5,1355.7 1810,1350.7 1811.5,1345.4 1813,1339.6 1814.5,1333.4 1816,1326.8 1817.5,1319.7 1819,1312.1 1820.5,1304 1822,1295.5 1823.5,1286.3 1825,1276.6 1826.5,1266.4 1828,1255.5 1829.5,1244 1831,1231.9 1832.5,1219.1 1834,1205.7 1835.5,1191.6 1837,1176.8 1838.5,1161.4 1840,1145.2 1841.5,1128.4 1843,1110.9 1844.5,1092.6 1846,1073.8 1847.5,1054.2 1849,1034.1 1850.5,1013.3 1852,991.9 1853.5,970 1855,972.1 1856.5,995.8 1858,1018.7 1859.5,1040.9 1861,1062.3 1862.5,1082.8 1864,1102.5 1865.5,1121.4 1867,1139.5 1868.5,1156.8 1870,1173.3 1871.5,1188.9 1873,1203.8 1874.5,1217.9 1876,1231.3 1877.5,1243.9 1879,1255.9 1880.5,1267.1 1882,1277.7 1883.5,1287.7 1885,1297.1 1886.5,1305.8 1888,1314 1889.5,1321.7 1891,1328.9 1892.5,1335.5 1894,1341.8 1894,1349.6 1892.5,1354.2 1891,1358.5 1889.5,1362.6 1888,1366.4 1886.5,1370 1885,1373.4 1883.5,1376.5 1882,1379.4 1880.5,1382.1 1879,1384.6 1877.5,1387 1876,1389.2 1874.5,1391.2 1873,1393 1871.5,1394.7 1870,1396.3 1868.5,1397.8 1867,1399.1 1865.5,1400.3 1864,1401.5 1862.5,1402.5 1861,1403.4 1859.5,1404.3 1858,1405.1 1856.5,1405.8 1855,1406.4 1853.5,1407 1852,1407.5 1850.5,1408 1849,1408.4 1847.5,1408.8 1846,1409.2 1844.5,1409.5 1843,1409.5 1841.5,1409.2 1840,1408.9 1838.5,1408.6 1837,1408.2 1835.5,1407.8 1834,1407.4 1832.5,1406.9 1831,1406.4 1829.5,1405.8 1828,1405.1 1826.5,1404.5 1825,1403.7 1823.5,1402.9 1822,1402 1820.5,1401.1 1819,1400 1817.5,1398.9 1816,1397.7 1814.5,1396.4 1813,1395 1811.5,1393.5 1810,1391.9 1808.5,1390.1 1807,1388.2 1805.5,1386.2 1804,1384.1 1802.5,1381.7 1801,1379.3Z"/><path fill="#A29CEC" d="M1837,1410.7 1838.5,1410.5 1840,1410.3 1841.5,1410 1843,1409.8 1844.5,1409.8 1846,1410 1847.5,1410.2 1849,1410.4 1850.5,1410.6 1852,1410.7 1852,1412.1 1850.5,1412.1 1849,1412.1 1847.5,1412.1 1846,1412.1 1844.5,1412.1 1843,1412.1 1841.5,1412.1 1840,1412.1 1838.5,1412.1 1837,1412.1Z"/><path fill="#C4AFEC" d="M1844.5,1409.5 1846,1409.2 1847.5,1408.8 1849,1408.4 1850.5,1408 1852,1407.5 1853.5,1407 1855,1406.4 1856.5,1405.8 1858,1405.1 1859.5,1404.3 1861,1403.4 1862.5,1402.5 1864,1401.5 1865.5,1400.3 1867,1399.1 1868.5,1397.8 1870,1396.3 1871.5,1394.7 1873,1393 1874.5,1391.2 1876,1389.2 1877.5,1387 1879,1384.6 1880.5,1382.1 1882,1379.4 1883.5,1376.5 1885,1373.4 1886.5,1370 1888,1366.4 1889.5,1362.6 1891,1358.5 1892.5,1354.2 1894,1349.6 1895.5,1347.5 1897,1352.9 1898.5,1357.9 1900,1362.5 1901.5,1366.8 1903,1370.7 1904.5,1374.4 1906,1377.7 1907.5,1380.8 1909,1383.7 1910.5,1386.3 1912,1388.7 1913.5,1390.9 1915,1392.9 1916.5,1394.7 1918,1396.4 1919.5,1397.9 1921,1399.3 1922.5,1400.6 1924,1401.7 1925.5,1402.8 1927,1403.7 1928.5,1404.6 1930,1405.4 1931.5,1406.1 1933,1406.7 1934.5,1407.3 1936,1407.8 1937.5,1408.3 1939,1408.7 1940.5,1409.1 1942,1409.4 1943.5,1409.7 1945,1410 1946.5,1410.2 1948,1410.4 1949.5,1410.6 1949.5,1412.1 1948,1412.1 1946.5,1412.1 1945,1412.1 1943.5,1412.1 1942,1412.1 1940.5,1412.1 1939,1412.1 1937.5,1412.1 1936,1412.1 1934.5,1412.1 1933,1412.1 1931.5,1412.1 1930,1412.1 1928.5,1412.1 1927,1412.1 1925.5,1412.1 1924,1412.1 1922.5,1412.1 1921,1412.1 1919.5,1412.1 1918,1412.1 1916.5,1412.1 1915,1412.1 1913.5,1412.1 1912,1412.1 1910.5,1412.1 1909,1412.1 1907.5,1412.1 1906,1412.1 1904.5,1412.1 1903,1412.1 1901.5,1412.1 1900,1412.1 1898.5,1412.1 1897,1412.1 1895.5,1412.1 1894,1412.1 1892.5,1412.1 1891,1412.1 1889.5,1412.1 1888,1412.1 1886.5,1412.1 1885,1412.1 1883.5,1412.1 1882,1412.1 1880.5,1412.1 1879,1412.1 1877.5,1412.1 1876,1412.1 1874.5,1412.1 1873,1412.1 1871.5,1412.1 1870,1412.1 1868.5,1412.1 1867,1412.1 1865.5,1412.1 1864,1412.1 1862.5,1412.1 1861,1412.1 1859.5,1412.1 1858,1412.1 1856.5,1412.1 1855,1412.1 1853.5,1412.1 1852,1410.7 1850.5,1410.6 1849,1410.4 1847.5,1410.2 1846,1410 1844.5,1409.8Z"/><path fill="#DCFF90" d="M1855,947.6 1856.5,924.7 1858,901.4 1859.5,877.7 1861,853.8 1862.5,829.6 1864,805.3 1865.5,780.9 1867,756.5 1868.5,732.2 1870,708.1 1871.5,684.3 1873,660.8 1874.5,637.9 1876,615.5 1877.5,593.8 1879,572.9 1880.5,552.9 1882,533.9 1883.5,516 1885,499.3 1886.5,483.9 1888,469.8 1889.5,457.3 1891,446.2 1892.5,436.7 1894,428.9 1895.5,422.8 1897,418.4 1898.5,415.8 1900,415 1901.5,415.9 1903,418.6 1904.5,423.1 1906,429.3 1907.5,437.2 1909,446.8 1910.5,457.9 1912,470.6 1913.5,484.7 1915,500.2 1916.5,516.9 1918,534.9 1919.5,553.9 1921,574 1922.5,594.9 1924,616.7 1925.5,639.1 1927,662.1 1928.5,685.5 1930,709.4 1931.5,733.5 1933,757.8 1934.5,782.2 1936,806.6 1937.5,830.9 1939,855.1 1940.5,879 1942,902.7 1943.5,925.9 1945,948.8 1946.5,971.2 1948,993.1 1949.5,1014.4 1951,1035.1 1951,1041.1 1949.5,1046.3 1948,1052.1 1946.5,1058.5 1945,1065.6 1943.5,1073.1 1942,1081.1 1940.5,1089.6 1939,1098.4 1937.5,1107.6 1936,1117 1934.5,1126.7 1933,1136.6 1931.5,1146.6 1930,1156.7 1928.5,1166.8 1927,1177 1925.5,1187.1 1924,1197.1 1922.5,1207 1921,1216.8 1919.5,1226.4 1918,1235.9 1916.5,1245.1 1915,1254.1 1913.5,1262.8 1912,1271.2 1910.5,1279.4 1909,1287.3 1907.5,1294.9 1906,1302.2 1904.5,1309.2 1903,1315.8 1901.5,1322.2 1900,1328.3 1898.5,1334 1897,1339.5 1895.5,1344.7 1894,1341.8 1892.5,1335.5 1891,1328.9 1889.5,1321.7 1888,1314 1886.5,1305.8 1885,1297.1 1883.5,1287.7 1882,1277.7 1880.5,1267.1 1879,1255.9 1877.5,1243.9 1876,1231.3 1874.5,1217.9 1873,1203.8 1871.5,1188.9 1870,1173.3 1868.5,1156.8 1867,1139.5 1865.5,1121.4 1864,1102.5 1862.5,1082.8 1861,1062.3 1859.5,1040.9 1858,1018.7 1856.5,995.8 1855,972.1Z"/><path fill="#EBE4E3" d="M1895.5,1344.7 1897,1339.5 1898.5,1334 1900,1328.3 1901.5,1322.2 1903,1315.8 1904.5,1309.2 1906,1302.2 1907.5,1294.9 1909,1287.3 1910.5,1279.4 1912,1271.2 1913.5,1262.8 1915,1254.1 1916.5,1245.1 1918,1235.9 1919.5,1226.4 1921,1216.8 1922.5,1207 1924,1197.1 1925.5,1187.1 1927,1177 1928.5,1166.8 1930,1156.7 1931.5,1146.6 1933,1136.6 1934.5,1126.7 1936,1117 1937.5,1107.6 1939,1098.4 1940.5,1089.6 1942,1081.1 1943.5,1073.1 1945,1065.6 1946.5,1058.5 1948,1052.1 1949.5,1046.3 1951,1041.1 1952.5,1055.3 1954,1074.8 1955.5,1093.6 1957,1111.8 1958.5,1129.3 1960,1146.1 1961.5,1162.2 1963,1177.7 1964.5,1192.4 1966,1206.5 1967.5,1219.8 1969,1232.6 1970.5,1244.7 1972,1256.1 1973.5,1266.9 1975,1277.2 1976.5,1286.8 1978,1295.9 1979.5,1304.5 1981,1312.5 1982.5,1320.1 1984,1327.1 1985.5,1333.7 1987,1339.9 1988.5,1345.7 1990,1351 1991.5,1356 1993,1360.6 1994.5,1364.9 1996,1368.9 1997.5,1372.6 1999,1376 2000.5,1379.2 2002,1382.1 2003.5,1384.8 2005,1387.3 2006.5,1389.5 2008,1391.6 2009.5,1393.5 2011,1395.3 2012.5,1396.9 2014,1398.3 2015.5,1399.7 2017,1400.9 2018.5,1402 2020,1403 2021.5,1403.9 2023,1404.7 2024.5,1405.5 2026,1406.2 2027.5,1406.8 2029,1407.4 2030.5,1407.9 2032,1408.3 2033.5,1408.7 2035,1409.1 2036.5,1409.4 2038,1409.7 2039.5,1410 2041,1410.2 2042.5,1410.4 2044,1410.6 2044,1412.1 2042.5,1412.1 2041,1412.1 2039.5,1412.1 2038,1412.1 2036.5,1412.1 2035,1412.1 2033.5,1412.1 2032,1412.1 2030.5,1412.1 2029,1412.1 2027.5,1412.1 2026,1412.1 2024.5,1412.1 2023,1412.1 2021.5,1412.1 2020,1412.1 2018.5,1412.1 2017,1412.1 2015.5,1412.1 2014,1412.1 2012.5,1412.1 2011,1412.1 2009.5,1412.1 2008,1412.1 2006.5,1412.1 2005,1412.1 2003.5,1412.1 2002,1412.1 2000.5,1412.1 1999,1412.1 1997.5,1412.1 1996,1412.1 1994.5,1412.1 1993,1412.1 1991.5,1412.1 1990,1412.1 1988.5,1412.1 1987,1412.1 1985.5,1412.1 1984,1412.1 1982.5,1412.1 1981,1412.1 1979.5,1412.1 1978,1412.1 1976.5,1412.1 1975,1412.1 1973.5,1412.1 1972,1412.1 1970.5,1412.1 1969,1412.1 1967.5,1412.1 1966,1412.1 1964.5,1412.1 1963,1412.1 1961.5,1412.1 1960,1412.1 1958.5,1412.1 1957,1412.1 1955.5,1412.1 1954,1412.1 1952.5,1412.1 1951,1412.1 1949.5,1410.6 1948,1410.4 1946.5,1410.2 1945,1410 1943.5,1409.7 1942,1409.4 1940.5,1409.1 1939,1408.7 1937.5,1408.3 1936,1407.8 1934.5,1407.3 1933,1406.7 1931.5,1406.1 1930,1405.4 1928.5,1404.6 1927,1403.7 1925.5,1402.8 1924,1401.7 1922.5,1400.6 1921,1399.3 1919.5,1397.9 1918,1396.4 1916.5,1394.7 1915,1392.9 1913.5,1390.9 1912,1388.7 1910.5,1386.3 1909,1383.7 1907.5,1380.8 1906,1377.7 1904.5,1374.4 1903,1370.7 1901.5,1366.8 1900,1362.5 1898.5,1357.9 1897,1352.9 1895.5,1347.5Z"/><path fill="#C8E48C" d="M1952.5,1036.5 1954,1032.7 1955.5,1029.7 1957,1027.4 1958.5,1025.9 1960,1025.1 1961.5,1025.2 1963,1026 1964.5,1027.7 1966,1030.1 1967.5,1033.3 1969,1037.2 1970.5,1041.8 1972,1047.1 1973.5,1053 1975,1059.5 1976.5,1066.6 1978,1074.2 1979.5,1082.3 1981,1090.8 1982.5,1099.7 1984,1108.9 1985.5,1118.4 1987,1128.1 1988.5,1138 1990,1148 1991.5,1158.1 1993,1168.3 1994.5,1178.4 1996,1188.5 1997.5,1198.5 1999,1208.4 2000.5,1218.2 2002,1227.8 2003.5,1237.2 2005,1246.4 2006.5,1255.3 2008,1264 2009.5,1272.4 2011,1280.6 2012.5,1288.4 2014,1296 2015.5,1303.2 2017,1310.1 2018.5,1316.8 2020,1323.1 2021.5,1329.1 2023,1334.8 2024.5,1340.3 2026,1345.4 2027.5,1350.2 2029,1354.8 2030.5,1359.1 2032,1363.1 2033.5,1366.9 2035,1370.5 2036.5,1373.8 2038,1376.9 2039.5,1379.8 2041,1382.5 2042.5,1385 2044,1387.3 2045.5,1389.5 2047,1391.5 2048.5,1393.3 2050,1395 2051.5,1396.5 2053,1398 2054.5,1399.3 2056,1400.5 2057.5,1401.6 2059,1402.6 2060.5,1403.6 2062,1404.4 2063.5,1405.2 2065,1405.9 2066.5,1406.5 2068,1407.1 2069.5,1407.6 2071,1408.1 2072.5,1408.5 2074,1408.9 2075.5,1409.2 2077,1409.5 2078.5,1409.8 2080,1410.1 2081.5,1410.3 2083,1410.5 2084.5,1410.7 2084.5,1412.1 2083,1412.1 2081.5,1412.1 2080,1412.1 2078.5,1412.1 2077,1412.1 2075.5,1412.1 2074,1412.1 2072.5,1412.1 2071,1412.1 2069.5,1412.1 2068,1412.1 2066.5,1412.1 2065,1412.1 2063.5,1412.1 2062,1412.1 2060.5,1412.1 2059,1412.1 2057.5,1412.1 2056,1412.1 2054.5,1412.1 2053,1412.1 2051.5,1412.1 2050,1412.1 2048.5,1412.1 2047,1412.1 2045.5,1412.1 2044,1410.6 2042.5,1410.4 2041,1410.2 2039.5,1410 2038,1409.7 2036.5,1409.4 2035,1409.1 2033.5,1408.7 2032,1408.3 2030.5,1407.9 2029,1407.4 2027.5,1406.8 2026,1406.2 2024.5,1405.5 2023,1404.7 2021.5,1403.9 2020,1403 2018.5,1402 2017,1400.9 2015.5,1399.7 2014,1398.3 2012.5,1396.9 2011,1395.3 2009.5,1393.5 2008,1391.6 2006.5,1389.5 2005,1387.3 2003.5,1384.8 2002,1382.1 2000.5,1379.2 1999,1376 1997.5,1372.6 1996,1368.9 1994.5,1364.9 1993,1360.6 1991.5,1356 1990,1351 1988.5,1345.7 1987,1339.9 1985.5,1333.7 1984,1327.1 1982.5,1320.1 1981,1312.5 1979.5,1304.5 1978,1295.9 1976.5,1286.8 1975,1277.2 1973.5,1266.9 1972,1256.1 1970.5,1244.7 1969,1232.6 1967.5,1219.8 1966,1206.5 1964.5,1192.4 1963,1177.7 1961.5,1162.2 1960,1146.1 1958.5,1129.3 1957,1111.8 1955.5,1093.6 1954,1074.8 1952.5,1055.3Z"/></g>
<polyline fill="none" stroke="#808080" stroke-width="5.2" stroke-linejoin="round" points="382,1412.1 383.5,1412.1 385,1412.1 386.5,1412.1 388,1412.1 389.5,1412.1 391,1412.1 392.5,1412.1 394,1412.1 395.5,1412.1 397,1412.1 398.5,1412.1 400,1412.1 401.5,1412.1 403,1412.1 404.5,1412.1 406,1412.1 407.5,1412.1 409,1412.1 410.5,1412.1 412,1412.1 413.5,1412.1 415,1412.1 416.5,1412.1 418,1412.1 419.5,1412.1 421,1412.1 422.5,1412.1 424,1412.1 425.5,1412.1 427,1412.1 428.5,1412.1 430,1412.1 431.5,1412.1 433,1412.1 434.5,1412.1 436,1412.1 437.5,1412.1 439,1412.1 440.5,1412.1 442,1412.1 443.5,1412.1 445,1412.1 446.5,1412.1 448,1412.1 449.5,1412.1 451,1412.1 452.5,1412.1 454,1412.1 455.5,1412.1 457,1412.1 458.5,1412.1 460,1412.1 461.5,1412.1 463,1412.1 464.5,1412.1 466,1412.1 467.5,1412.1 469,1412.1 470.5,1412.1 472,1412.1 473.5,1412.1 475,1412.1 476.5,1412.1 478,1412.1 479.5,1412.1 481,1412.1 482.5,1412.1 484,1412.1 485.5,1412.1 487,1412.1 488.5,1412.1 490,1412.1 491.5,1412.1 493,1412.1 494.5,1412.1 496,1412.1 497.5,1412.1 499,1412.1 500.5,1412.1 502,1412.1 503.5,1412.1 505,1412.1 506.5,1412.1 508,1412.1 509.5,1412.1 511,1412.1 512.5,1412.1 514,1412.1 515.5,1412.1 517,1412.1 518.5,1412.1 520,1412.1 521.5,1412.1 523,1412.1 524.5,1412.1 526,1412.1 527.5,1412.1 529,1412.1 530.5,1412.1 532,1412.1 533.5,1412.1 535,1412.1 536.5,1412.1 538,1412.1 539.5,1412.1 541,1412.1 542.5,1412.1 544,1412.1 545.5,1412.1 547,1412.1 548.5,1412.1 550,1412.1 551.5,1412.1 553,1412.1 554.5,1412.1 556,1412.1 557.5,1412.1 559,1412.1 560.5,1412.1 562,1412.1 563.5,1412.1 565,1412.1 566.5,1412.1 568,1412.1 569.5,1412.1 571,1412.1 572.5,1412.1 574,1412.1 575.5,1412.1 577,1412.1 578.5,1412.1 580,1412.1 581.5,1412.1 583,1412.1 584.5,1412.1 586,1412.1 587.5,1412.1 589,1412.1 590.5,1412.1 592,1412.1 593.5,1412.1 595,1412.1 596.5,1412.1 598,1412.1 599.5,1412.1 601,1412.1 602.5,1412.1 604,1412.1 605.5,1412.1 607,1412.1 608.5,1412.1 610,1412.1 611.5,1412.1 613,1412.1 614.5,1412.1 616,1412.1 617.5,1412.1 619,1412.1 620.5,1412.1 622,1412.1 623.5,1412.1 625,1412.1 626.5,1412 628,1412 629.5,1412 631,1412 632.5,1412 634,1412 635.5,1412 637,1412 638.5,1411.9 640,1411.9 641.5,1411.9 643,1411.9 644.5,1411.8 646,1411.8 647.5,1411.7 649,1411.7 650.5,1411.6 652,1411.6 653.5,1411.5 655,1411.4 656.5,1411.3 658,1411.2 659.5,1411.1 661,1411 662.5,1410.9 664,1410.7 665.5,1410.6 667,1410.4 668.5,1410.2 670,1409.9 671.5,1409.7 673,1409.4 674.5,1409.1 676,1408.7 677.5,1408.3 679,1407.9 680.5,1407.4 682,1406.9 683.5,1406.4 685,1405.7 686.5,1405.1 688,1404.3 689.5,1403.5 691,1402.6 692.5,1401.7 694,1400.6 695.5,1399.4 697,1398.2 698.5,1396.8 700,1395.4 701.5,1393.8 703,1392 704.5,1390.1 706,1388.1 707.5,1385.9 709,1383.6 710.5,1381.1 712,1378.4 713.5,1375.4 715,1372.3 716.5,1369 718,1365.4 719.5,1361.6 721,1357.5 722.5,1353.2 724,1348.6 725.5,1343.7 727,1338.6 728.5,1333.1 730,1327.3 731.5,1321.2 733,1314.8 734.5,1308 736,1300.9 737.5,1293.5 739,1285.7 740.5,1277.6 742,1269.1 743.5,1260.3 745,1251.1 746.5,1241.6 748,1231.7 749.5,1221.6 751,1211.1 752.5,1200.3 754,1189.3 755.5,1178 757,1166.4 758.5,1154.7 760,1142.7 761.5,1130.6 763,1118.4 764.5,1106.1 766,1093.7 767.5,1081.4 769,1069.1 770.5,1056.8 772,1044.7 773.5,1032.8 775,1021.1 776.5,1009.7 778,998.6 779.5,988 781,977.7 782.5,968 784,958.8 785.5,950.2 787,942.2 788.5,934.9 790,928.4 791.5,922.6 793,917.6 794.5,913.4 796,910.1 797.5,907.6 799,906 800.5,905.4 802,905.6 803.5,906.7 805,908.7 806.5,911.6 808,915.4 809.5,920 811,925.4 812.5,931.5 814,938.5 815.5,946.1 817,954.4 818.5,963.3 820,972.8 821.5,982.7 823,993.2 824.5,1004.1 826,1015.3 827.5,1026.9 829,1038.7 830.5,1050.7 832,1062.9 833.5,1075.1 835,1087.5 836.5,1099.8 838,1112.2 839.5,1124.4 841,1136.6 842.5,1148.6 844,1160.5 845.5,1172.2 847,1183.6 848.5,1194.8 850,1205.7 851.5,1216.3 853,1226.6 854.5,1236.7 856,1246.3 857.5,1255.7 859,1264.7 860.5,1273.3 862,1281.7 863.5,1289.6 865,1297.2 866.5,1304.5 868,1311.4 869.5,1318 871,1324.3 872.5,1330.2 874,1335.9 875.5,1341.2 877,1346.2 878.5,1350.9 880,1355.4 881.5,1359.6 883,1363.5 884.5,1367.2 886,1370.7 887.5,1373.9 889,1376.9 890.5,1379.7 892,1382.3 893.5,1384.8 895,1387 896.5,1389.1 898,1391.1 899.5,1392.9 901,1394.6 902.5,1396.1 904,1397.5 905.5,1398.8 907,1400 908.5,1401.1 910,1402.1 911.5,1403.1 913,1403.9 914.5,1404.7 916,1405.4 917.5,1406.1 919,1406.6 920.5,1407.2 922,1407.7 923.5,1408.1 925,1408.5 926.5,1408.9 928,1409.2 929.5,1409.5 931,1409.8 932.5,1410 934,1410.2 935.5,1410.4 937,1410.6 938.5,1410.8 940,1410.9 941.5,1411 943,1411.2 944.5,1411.2 946,1411.3 947.5,1411.4 949,1411.5 950.5,1411.5 952,1411.6 953.5,1411.6 955,1411.6 956.5,1411.7 958,1411.7 959.5,1411.7 961,1411.7 962.5,1411.7 964,1411.7 965.5,1411.7 967,1411.7 968.5,1411.6 970,1411.6 971.5,1411.6 973,1411.5 974.5,1411.5 976,1411.4 977.5,1411.3 979,1411.2 980.5,1411.1 982,1411 983.5,1410.9 985,1410.7 986.5,1410.6 988,1410.4 989.5,1410.2 991,1410 992.5,1409.8 994,1409.5 995.5,1409.2 997,1408.9 998.5,1408.5 1000,1408.1 1001.5,1407.7 1003,1407.2 1004.5,1406.7 1006,1406.1 1007.5,1405.5 1009,1404.8 1010.5,1404.1 1012,1403.2 1013.5,1402.4 1015,1401.4 1016.5,1400.3 1018,1399.2 1019.5,1397.9 1021,1396.6 1022.5,1395.1 1024,1393.5 1025.5,1391.8 1027,1389.9 1028.5,1387.9 1030,1385.8 1031.5,1383.4 1033,1380.9 1034.5,1378.2 1036,1375.4 1037.5,1372.3 1039,1369 1040.5,1365.5 1042,1361.7 1043.5,1357.7 1045,1353.5 1046.5,1348.9 1048,1344.1 1049.5,1339 1051,1333.6 1052.5,1327.9 1054,1321.9 1055.5,1315.5 1057,1308.8 1058.5,1301.8 1060,1294.4 1061.5,1286.6 1063,1278.5 1064.5,1270 1066,1261.2 1067.5,1252 1069,1242.4 1070.5,1232.5 1072,1222.2 1073.5,1211.5 1075,1200.5 1076.5,1189.2 1078,1177.5 1079.5,1165.6 1081,1153.3 1082.5,1140.8 1084,1128.1 1085.5,1115.1 1087,1102 1088.5,1088.6 1090,1075.2 1091.5,1061.7 1093,1048.1 1094.5,1034.5 1096,1020.9 1097.5,1007.4 1099,994 1100.5,980.8 1102,967.7 1103.5,955 1105,942.5 1106.5,930.4 1108,918.7 1109.5,907.4 1111,896.5 1112.5,886.3 1114,876.5 1115.5,867.4 1117,858.8 1118.5,850.9 1120,843.7 1121.5,837.2 1123,831.3 1124.5,826.2 1126,821.7 1127.5,818 1129,814.9 1130.5,812.5 1132,810.8 1133.5,809.6 1135,809 1136.5,809 1138,809.5 1139.5,810.4 1141,811.7 1142.5,813.3 1144,815.2 1145.5,817.4 1147,819.6 1148.5,822 1150,824.3 1151.5,826.6 1153,828.7 1154.5,830.7 1156,832.4 1157.5,833.8 1159,834.8 1160.5,835.4 1162,835.4 1163.5,835 1165,833.9 1166.5,832.3 1168,830 1169.5,827 1171,823.3 1172.5,819 1174,814 1175.5,808.2 1177,801.8 1178.5,794.7 1180,787 1181.5,778.7 1183,769.8 1184.5,760.5 1186,750.7 1187.5,740.4 1189,729.9 1190.5,719.2 1192,708.2 1193.5,697.2 1195,686.2 1196.5,675.3 1198,664.5 1199.5,654.1 1201,643.9 1202.5,634.3 1204,625.1 1205.5,616.6 1207,608.7 1208.5,601.6 1210,595.4 1211.5,590 1213,585.5 1214.5,582 1216,579.4 1217.5,577.9 1219,577.3 1220.5,577.8 1222,579.3 1223.5,581.7 1225,585 1226.5,589.2 1228,594.3 1229.5,600.1 1231,606.6 1232.5,613.7 1234,621.3 1235.5,629.3 1237,637.7 1238.5,646.2 1240,655 1241.5,663.7 1243,672.4 1244.5,680.9 1246,689.2 1247.5,697.1 1249,704.5 1250.5,711.4 1252,717.7 1253.5,723.2 1255,728.1 1256.5,732.1 1258,735.3 1259.5,737.5 1261,738.9 1262.5,739.2 1264,738.7 1265.5,737.1 1267,734.6 1268.5,731.1 1270,726.7 1271.5,721.5 1273,715.3 1274.5,708.4 1276,700.8 1277.5,692.5 1279,683.5 1280.5,674.1 1282,664.3 1283.5,654 1285,643.6 1286.5,633 1288,622.3 1289.5,611.7 1291,601.2 1292.5,590.9 1294,580.9 1295.5,571.4 1297,562.3 1298.5,553.9 1300,546 1301.5,538.9 1303,532.5 1304.5,526.9 1306,522.2 1307.5,518.3 1309,515.3 1310.5,513.2 1312,512 1313.5,511.6 1315,512 1316.5,513.2 1318,515.1 1319.5,517.7 1321,520.9 1322.5,524.7 1324,528.9 1325.5,533.4 1327,538.3 1328.5,543.3 1330,548.4 1331.5,553.5 1333,558.6 1334.5,563.5 1336,568.1 1337.5,572.4 1339,576.3 1340.5,579.8 1342,582.8 1343.5,585.2 1345,587.1 1346.5,588.3 1348,588.9 1349.5,589 1351,588.4 1352.5,587.3 1354,585.7 1355.5,583.5 1357,581 1358.5,578.1 1360,574.9 1361.5,571.5 1363,568 1364.5,564.5 1366,561 1367.5,557.8 1369,554.8 1370.5,552.3 1372,550.2 1373.5,548.7 1375,547.9 1376.5,547.9 1378,548.7 1379.5,550.5 1381,553.2 1382.5,557 1384,561.8 1385.5,567.7 1387,574.8 1388.5,583 1390,592.4 1391.5,602.9 1393,614.4 1394.5,627.1 1396,640.8 1397.5,655.5 1399,671.2 1400.5,687.7 1402,705 1403.5,723.1 1405,741.8 1406.5,761.1 1408,780.9 1409.5,801.1 1411,821.7 1412.5,842.5 1414,863.4 1415.5,884.5 1417,905.6 1418.5,926.6 1420,947.5 1421.5,968.2 1423,988.6 1424.5,1008.7 1426,1028.5 1427.5,1047.8 1429,1066.7 1430.5,1085.1 1432,1103 1433.5,1120.4 1435,1137.1 1436.5,1153.3 1438,1168.8 1439.5,1183.8 1441,1198.1 1442.5,1211.8 1444,1224.9 1445.5,1237.4 1447,1249.2 1448.5,1260.5 1450,1271.1 1451.5,1281.2 1453,1290.7 1454.5,1299.7 1456,1308.1 1457.5,1316.1 1459,1323.5 1460.5,1330.4 1462,1337 1463.5,1343 1465,1348.7 1466.5,1354 1468,1358.8 1469.5,1363.4 1471,1367.6 1472.5,1371.5 1474,1375.1 1475.5,1378.4 1477,1381.5 1478.5,1384.3 1480,1386.8 1481.5,1389.2 1483,1391.4 1484.5,1393.4 1486,1395.2 1487.5,1396.8 1489,1398.4 1490.5,1399.7 1492,1401 1493.5,1402.1 1495,1403.1 1496.5,1404.1 1498,1404.9 1499.5,1405.7 1501,1406.4 1502.5,1407 1504,1407.5 1505.5,1408 1507,1408.5 1508.5,1408.9 1510,1409.3 1511.5,1409.6 1513,1409.9 1514.5,1410.1 1516,1410.3 1517.5,1410.5 1519,1410.7 1520.5,1410.9 1522,1411 1523.5,1411.1 1525,1411.2 1526.5,1411.3 1528,1411.4 1529.5,1411.4 1531,1411.5 1532.5,1411.5 1534,1411.5 1535.5,1411.6 1537,1411.6 1538.5,1411.6 1540,1411.6 1541.5,1411.5 1543,1411.5 1544.5,1411.5 1546,1411.5 1547.5,1411.4 1549,1411.3 1550.5,1411.3 1552,1411.2 1553.5,1411.1 1555,1411 1556.5,1410.9 1558,1410.7 1559.5,1410.6 1561,1410.4 1562.5,1410.3 1564,1410.1 1565.5,1409.8 1567,1409.6 1568.5,1409.3 1570,1409 1571.5,1408.7 1573,1408.3 1574.5,1407.9 1576,1407.5 1577.5,1407 1579,1406.5 1580.5,1406 1582,1405.4 1583.5,1404.7 1585,1404 1586.5,1403.2 1588,1402.3 1589.5,1401.4 1591,1400.4 1592.5,1399.3 1594,1398.2 1595.5,1396.9 1597,1395.5 1598.5,1394 1600,1392.4 1601.5,1390.7 1603,1388.9 1604.5,1386.9 1606,1384.8 1607.5,1382.6 1609,1380.1 1610.5,1377.5 1612,1374.8 1613.5,1371.8 1615,1368.7 1616.5,1365.3 1618,1361.8 1619.5,1358 1621,1354 1622.5,1349.8 1624,1345.3 1625.5,1340.6 1627,1335.6 1628.5,1330.3 1630,1324.8 1631.5,1319 1633,1312.9 1634.5,1306.5 1636,1299.8 1637.5,1292.8 1639,1285.5 1640.5,1277.9 1642,1269.9 1643.5,1261.7 1645,1253.2 1646.5,1244.3 1648,1235.2 1649.5,1225.8 1651,1216.1 1652.5,1206.1 1654,1195.8 1655.5,1185.3 1657,1174.6 1658.5,1163.6 1660,1152.5 1661.5,1141.1 1663,1129.6 1664.5,1118 1666,1106.2 1667.5,1094.4 1669,1082.5 1670.5,1070.6 1672,1058.6 1673.5,1046.8 1675,1035 1676.5,1023.3 1678,1011.8 1679.5,1000.4 1681,989.3 1682.5,978.4 1684,967.8 1685.5,957.6 1687,947.6 1688.5,938.1 1690,928.9 1691.5,920.2 1693,912 1694.5,904.2 1696,896.9 1697.5,890 1699,883.7 1700.5,877.9 1702,872.6 1703.5,867.8 1705,863.4 1706.5,859.6 1708,856.1 1709.5,853.1 1711,850.5 1712.5,848.2 1714,846.2 1715.5,844.5 1717,843 1718.5,841.7 1720,840.5 1721.5,839.3 1723,838.1 1724.5,836.8 1726,835.4 1727.5,833.7 1729,831.8 1730.5,829.6 1732,826.9 1733.5,823.8 1735,820.2 1736.5,816 1738,811.1 1739.5,805.5 1741,799.2 1742.5,792.1 1744,784.1 1745.5,775.3 1747,765.6 1748.5,755 1750,743.5 1751.5,731 1753,717.6 1754.5,703.2 1756,687.9 1757.5,671.7 1759,654.7 1760.5,636.9 1762,618.2 1763.5,598.9 1765,578.8 1766.5,558.2 1768,537.1 1769.5,515.6 1771,493.8 1772.5,471.7 1774,449.5 1775.5,427.4 1777,405.3 1778.5,383.5 1780,362 1781.5,341 1783,320.6 1784.5,300.9 1786,282 1787.5,264.2 1789,247.3 1790.5,231.7 1792,217.3 1793.5,204.3 1795,192.7 1796.5,182.6 1798,174.2 1799.5,167.3 1801,162.1 1802.5,158.5 1804,156.6 1805.5,156.4 1807,157.9 1808.5,160.9 1810,165.6 1811.5,171.7 1813,179.3 1814.5,188.2 1816,198.4 1817.5,209.7 1819,222 1820.5,235.3 1822,249.4 1823.5,264.1 1825,279.3 1826.5,294.9 1828,310.7 1829.5,326.6 1831,342.5 1832.5,358.2 1834,373.6 1835.5,388.6 1837,403 1838.5,416.8 1840,429.8 1841.5,441.9 1843,453 1844.5,463.2 1846,472.2 1847.5,480.1 1849,486.7 1850.5,492.1 1852,496.3 1853.5,499.2 1855,500.7 1856.5,501 1858,500.1 1859.5,497.9 1861,494.6 1862.5,490.1 1864,484.5 1865.5,478 1867,470.5 1868.5,462.2 1870,453.1 1871.5,443.4 1873,433.2 1874.5,422.5 1876,411.5 1877.5,400.3 1879,389.1 1880.5,377.8 1882,366.7 1883.5,355.9 1885,345.4 1886.5,335.4 1888,326 1889.5,317.3 1891,309.3 1892.5,302.2 1894,296 1895.5,290.8 1897,286.6 1898.5,283.5 1900,281.5 1901.5,280.7 1903,281 1904.5,282.4 1906,285 1907.5,288.7 1909,293.5 1910.5,299.4 1912,306.3 1913.5,314.1 1915,322.9 1916.5,332.5 1918,342.9 1919.5,354.1 1921,365.9 1922.5,378.3 1924,391.3 1925.5,404.7 1927,418.6 1928.5,432.7 1930,447.2 1931.5,462 1933,476.9 1934.5,492 1936,507.3 1937.5,522.6 1939,538 1940.5,553.5 1942,569 1943.5,584.6 1945,600.1 1946.5,615.7 1948,631.4 1949.5,647.1 1951,662.8 1952.5,678.6 1954,694.4 1955.5,710.3 1957,726.3 1958.5,742.4 1960,758.5 1961.5,774.8 1963,791.1 1964.5,807.6 1966,824.1 1967.5,840.7 1969,857.4 1970.5,874.1 1972,890.9 1973.5,907.7 1975,924.5 1976.5,941.2 1978,958 1979.5,974.6 1981,991.2 1982.5,1007.6 1984,1023.9 1985.5,1040 1987,1055.9 1988.5,1071.5 1990,1086.9 1991.5,1102 1993,1116.8 1994.5,1131.2 1996,1145.3 1997.5,1159.1 1999,1172.4 2000.5,1185.3 2002,1197.8 2003.5,1209.9 2005,1221.5 2006.5,1232.8 2008,1243.5 2009.5,1253.9 2011,1263.7 2012.5,1273.2 2014,1282.2 2015.5,1290.8 2017,1298.9 2018.5,1306.7 2020,1314 2021.5,1320.9 2023,1327.5 2024.5,1333.7 2026,1339.5 2027.5,1344.9 2029,1350.1 2030.5,1354.9 2032,1359.4 2033.5,1363.6 2035,1367.5 2036.5,1371.1 2038,1374.5 2039.5,1377.7 2041,1380.6 2042.5,1383.3 2044,1385.8 2045.5,1388.2 2047,1390.3 2048.5,1392.3 2050,1394.1 2051.5,1395.8 2053,1397.3 2054.5,1398.7 2056,1400 2057.5,1401.1 2059,1402.2 2060.5,1403.2 2062,1404.1 2063.5,1404.9 2065,1405.6 2066.5,1406.3 2068,1406.9 2069.5,1407.4 2071,1407.9 2072.5,1408.4 2074,1408.8 2075.5,1409.1 2077,1409.5 2078.5,1409.8 2080,1410 2081.5,1410.3 2083,1410.5 2084.5,1410.7 2086,1410.8 2087.5,1411 2089,1411.1 2090.5,1411.2 2092,1411.3 2093.5,1411.4 2095,1411.5 2096.5,1411.6 2098,1411.6 2099.5,1411.7 2101,1411.8 2102.5,1411.8 2104,1411.8 2105.5,1411.9 2107,1411.9 2108.5,1411.9 2110,1411.9 2111.5,1412 2113,1412 2114.5,1412 2116,1412 2117.5,1412 2119,1412 2120.5,1412 2122,1412.1 2123.5,1412.1 2125,1412.1 2126.5,1412.1 2128,1412.1 2129.5,1412.1 2131,1412.1 2132.5,1412.1 2134,1412.1 2135.5,1412.1 2137,1412.1 2138.5,1412.1 2140,1412.1 2141.5,1412.1 2143,1412.1 2144.5,1412.1 2146,1412.1 2147.5,1412.1 2149,1412.1 2150.5,1412.1 2152,1412.1 2153.5,1412.1 2155,1412.1 2156.5,1412.1 2158,1412.1 2159.5,1412.1 2161,1412.1 2162.5,1412.1 2164,1412.1 2165.5,1412.1 2167,1412.1 2168.5,1412.1 2170,1412.1 2171.5,1412.1 2173,1412.1 2174.5,1412.1 2176,1412.1 2177.5,1412.1 2179,1412.1 2180.5,1412.1 2182,1412.1 2183.5,1412.1 2185,1412.1 2186.5,1412.1 2188,1412.1 2189.5,1412.1 2191,1412.1 2192.5,1412.1 2194,1412.1 2195.5,1412.1 2197,1412.1 2198.5,1412.1 2200,1412.1 2201.5,1412.1 2203,1412.1 2204.5,1412.1 2206,1412.1 2207.5,1412.1 2209,1412.1 2210.5,1412.1 2212,1412.1 2213.5,1412.1 2215,1412.1 2216.5,1412.1 2218,1412.1 2219.5,1412.1 2221,1412.1 2222.5,1412.1 2224,1412.1 2225.5,1412.1 2227,1412.1 2228.5,1412.1 2230,1412.1 2231.5,1412.1 2233,1412.1 2234.5,1412.1 2236,1412.1 2237.5,1412.1 2239,1412.1 2240.5,1412.1 2242,1412.1 2243.5,1412.1 2245,1412.1 2246.5,1412.1 2248,1412.1 2249.5,1412.1 2251,1412.1 2252.5,1412.1 2254,1412.1 2255.5,1412.1 2257,1412.1 2258.5,1412.1 2260,1412.1 2261.5,1412.1 2263,1412.1 2264.5,1412.1 2266,1412.1 2267.5,1412.1 2269,1412.1 2270.5,1412.1 2272,1412.1 2273.5,1412.1 2275,1412.1 2276.5,1412.1 2278,1412.1 2279.5,1412.1 2281,1412.1 2282.5,1412.1 2284,1412.1 2285.5,1412.1 2287,1412.1 2288.5,1412.1 2290,1412.1 2291.5,1412.1 2293,1412.1 2294.5,1412.1 2296,1412.1 2297.5,1412.1 2299,1412.1 2300.5,1412.1 2302,1412.1 2303.5,1412.1 2305,1412.1 2306.5,1412.1 2308,1412.1 2309.5,1412.1 2311,1412.1 2312.5,1412.1 2314,1412.1 2315.5,1412.1 2317,1412.1 2318.5,1412.1 2320,1412.1 2321.5,1412.1 2323,1412.1 2324.5,1412.1 2326,1412.1 2327.5,1412.1 2329,1412.1"/>
<g><polyline fill="none" stroke="#A85400" stroke-width="5.4" stroke-linejoin="round" points="655,1411.4 656.5,1411.3 658,1411.2 659.5,1411.1 661,1411 662.5,1410.9 664,1410.7 665.5,1410.6 667,1410.4 668.5,1410.2 670,1409.9 671.5,1409.7 673,1409.4 674.5,1409.1 676,1408.7 677.5,1408.3 679,1407.9 680.5,1407.4 682,1406.9 683.5,1406.4 685,1405.7 686.5,1405.1 688,1404.3 689.5,1403.5 691,1402.6 692.5,1401.7 694,1400.6 695.5,1399.4 697,1398.2 698.5,1396.8 700,1395.4 701.5,1393.8 703,1392 704.5,1390.1 706,1388.1 707.5,1385.9 709,1383.6 710.5,1381.1 712,1378.4 713.5,1375.4 715,1372.3 716.5,1369 718,1365.4 719.5,1361.6 721,1357.5 722.5,1353.2 724,1348.6 725.5,1343.7 727,1338.6 728.5,1333.1 730,1327.3 731.5,1321.2 733,1314.8 734.5,1308 736,1300.9 737.5,1293.5 739,1285.7 740.5,1277.6 742,1269.1 743.5,1260.3 745,1251.1 746.5,1241.6 748,1231.7 749.5,1221.6 751,1211.1 752.5,1200.3 754,1189.3 755.5,1178 757,1166.4 758.5,1154.7 760,1142.7 761.5,1130.6 763,1118.4 764.5,1106.1 766,1093.7 767.5,1081.4 769,1069.1 770.5,1056.8 772,1044.7 773.5,1032.8 775,1021.1 776.5,1009.7 778,998.6 779.5,988 781,977.7 782.5,968 784,958.8 785.5,950.2 787,942.2 788.5,934.9 790,928.4 791.5,922.6 793,917.6 794.5,913.4 796,910.1 797.5,907.6 799,906 800.5,905.4 802,905.6 803.5,906.7 805,908.7 806.5,911.6 808,915.4 809.5,920 811,925.4 812.5,931.5 814,938.5 815.5,946.1 817,954.4 818.5,963.3 820,972.8 821.5,982.7 823,993.2 824.5,1004.1 826,1015.3 827.5,1026.9 829,1038.7 830.5,1050.7 832,1062.9 833.5,1075.1 835,1087.5 836.5,1099.8 838,1112.2 839.5,1124.4 841,1136.6 842.5,1148.6 844,1160.5 845.5,1172.2 847,1183.6 848.5,1194.8 850,1205.7 851.5,1216.3 853,1226.6 854.5,1236.7 856,1246.3 857.5,1255.7 859,1264.7 860.5,1273.3 862,1281.7 863.5,1289.6 865,1297.2 866.5,1304.5 868,1311.4 869.5,1318 871,1324.3 872.5,1330.2 874,1335.9 875.5,1341.2 877,1346.2 878.5,1350.9 880,1355.4 881.5,1359.6 883,1363.5 884.5,1367.2 886,1370.7 887.5,1373.9 889,1376.9 890.5,1379.7 892,1382.3 893.5,1384.8 895,1387 896.5,1389.1 898,1391.1 899.5,1392.9 901,1394.6 902.5,1396.1 904,1397.5 905.5,1398.8 907,1400 908.5,1401.1 910,1402.1 911.5,1403.1 913,1403.9 914.5,1404.7 916,1405.4 917.5,1406.1 919,1406.7 920.5,1407.2 922,1407.7 923.5,1408.1 925,1408.5 926.5,1408.9 928,1409.2 929.5,1409.5 931,1409.8 932.5,1410 934,1410.3 935.5,1410.5 937,1410.6 938.5,1410.8 940,1410.9 941.5,1411.1 943,1411.2 944.5,1411.3 946,1411.4"/><polyline fill="none" stroke="#A83838" stroke-width="5.4" stroke-linejoin="round" points="976,1411.4 977.5,1411.4 979,1411.3 980.5,1411.2 982,1411 983.5,1410.9 985,1410.8 986.5,1410.6 988,1410.4 989.5,1410.2 991,1410 992.5,1409.8 994,1409.5 995.5,1409.2 997,1408.9 998.5,1408.5 1000,1408.1 1001.5,1407.7 1003,1407.2 1004.5,1406.7 1006,1406.1 1007.5,1405.5 1009,1404.8 1010.5,1404.1 1012,1403.2 1013.5,1402.4 1015,1401.4 1016.5,1400.3 1018,1399.2 1019.5,1397.9 1021,1396.6 1022.5,1395.1 1024,1393.5 1025.5,1391.8 1027,1389.9 1028.5,1387.9 1030,1385.8 1031.5,1383.4 1033,1380.9 1034.5,1378.3 1036,1375.4 1037.5,1372.3 1039,1369 1040.5,1365.5 1042,1361.7 1043.5,1357.7 1045,1353.5 1046.5,1349 1048,1344.2 1049.5,1339.1 1051,1333.7 1052.5,1328 1054,1321.9 1055.5,1315.6 1057,1308.9 1058.5,1301.9 1060,1294.5 1061.5,1286.8 1063,1278.7 1064.5,1270.3 1066,1261.5 1067.5,1252.3 1069,1242.8 1070.5,1232.9 1072,1222.6 1073.5,1212.1 1075,1201.1 1076.5,1189.9 1078,1178.4 1079.5,1166.5 1081,1154.4 1082.5,1142 1084,1129.5 1085.5,1116.7 1087,1103.7 1088.5,1090.6 1090,1077.4 1091.5,1064.2 1093,1050.9 1094.5,1037.7 1096,1024.5 1097.5,1011.5 1099,998.6 1100.5,985.9 1102,973.5 1103.5,961.4 1105,949.7 1106.5,938.4 1108,927.6 1109.5,917.3 1111,907.7 1112.5,898.6 1114,890.2 1115.5,882.5 1117,875.6 1118.5,869.5 1120,864.3 1121.5,859.9 1123,856.3 1124.5,853.7 1126,852 1127.5,851.3 1129,851.4 1130.5,852.5 1132,854.6 1133.5,857.5 1135,861.4 1136.5,866.1 1138,871.7 1139.5,878.1 1141,885.3 1142.5,893.2 1144,901.8 1145.5,911.1 1147,921.1 1148.5,931.5 1150,942.5 1151.5,954 1153,965.8 1154.5,978 1156,990.5 1157.5,1003.3 1159,1016.2 1160.5,1029.3 1162,1042.5 1163.5,1055.8 1165,1069.1 1166.5,1082.3 1168,1095.4 1169.5,1108.5 1171,1121.4 1172.5,1134.1 1174,1146.6 1175.5,1158.9 1177,1170.9 1178.5,1182.6 1180,1194.1 1181.5,1205.2 1183,1216 1184.5,1226.4 1186,1236.6 1187.5,1246.3 1189,1255.7 1190.5,1264.7 1192,1273.4 1193.5,1281.7 1195,1289.7 1196.5,1297.3 1198,1304.5 1199.5,1311.4 1201,1318 1202.5,1324.2 1204,1330.1 1205.5,1335.7 1207,1341 1208.5,1346 1210,1350.7 1211.5,1355.1 1213,1359.2 1214.5,1363.2 1216,1366.8 1217.5,1370.3 1219,1373.5 1220.5,1376.5 1222,1379.3 1223.5,1381.9 1225,1384.3 1226.5,1386.6 1228,1388.7 1229.5,1390.6 1231,1392.4 1232.5,1394.1 1234,1395.6 1235.5,1397.1 1237,1398.4 1238.5,1399.6 1240,1400.7 1241.5,1401.7 1243,1402.7 1244.5,1403.6 1246,1404.4 1247.5,1405.1 1249,1405.7 1250.5,1406.4 1252,1406.9 1253.5,1407.4 1255,1407.9 1256.5,1408.3 1258,1408.7 1259.5,1409 1261,1409.3 1262.5,1409.6 1264,1409.9 1265.5,1410.1 1267,1410.3 1268.5,1410.5 1270,1410.7 1271.5,1410.8 1273,1411 1274.5,1411.1 1276,1411.2 1277.5,1411.3 1279,1411.4"/><polyline fill="none" stroke="#868600" stroke-width="5.4" stroke-linejoin="round" points="1076.5,1411.4 1078,1411.3 1079.5,1411.2 1081,1411 1082.5,1410.9 1084,1410.7 1085.5,1410.5 1087,1410.3 1088.5,1410.1 1090,1409.9 1091.5,1409.6 1093,1409.2 1094.5,1408.9 1096,1408.5 1097.5,1408 1099,1407.5 1100.5,1407 1102,1406.3 1103.5,1405.7 1105,1404.9 1106.5,1404.1 1108,1403.1 1109.5,1402.1 1111,1401 1112.5,1399.8 1114,1398.4 1115.5,1396.9 1117,1395.3 1118.5,1393.5 1120,1391.5 1121.5,1389.4 1123,1387.1 1124.5,1384.6 1126,1381.8 1127.5,1378.8 1129,1375.6 1130.5,1372.1 1132,1368.3 1133.5,1364.2 1135,1359.8 1136.5,1355.1 1138,1350 1139.5,1344.5 1141,1338.6 1142.5,1332.3 1144,1325.6 1145.5,1318.5 1147,1310.8 1148.5,1302.7 1150,1294.1 1151.5,1285 1153,1275.3 1154.5,1265.1 1156,1254.3 1157.5,1243 1159,1231.1 1160.5,1218.6 1162,1205.6 1163.5,1191.9 1165,1177.7 1166.5,1162.9 1168,1147.6 1169.5,1131.7 1171,1115.3 1172.5,1098.4 1174,1081.1 1175.5,1063.3 1177,1045.1 1178.5,1026.5 1180,1007.7 1181.5,988.6 1183,969.3 1184.5,949.9 1186,930.4 1187.5,911 1189,891.6 1190.5,872.4 1192,853.5 1193.5,834.9 1195,816.8 1196.5,799.2 1198,782.3 1199.5,766 1201,750.6 1202.5,736.1 1204,722.5 1205.5,710 1207,698.7 1208.5,688.6 1210,679.7 1211.5,672.2 1213,666.1 1214.5,661.4 1216,658.2 1217.5,656.4 1219,656.1 1220.5,657.4 1222,660.1 1223.5,664.3 1225,669.9 1226.5,677 1228,685.3 1229.5,695 1231,706 1232.5,718.1 1234,731.2 1235.5,745.5 1237,760.6 1238.5,776.6 1240,793.3 1241.5,810.7 1243,828.6 1244.5,847 1246,865.8 1247.5,884.9 1249,904.2 1250.5,923.7 1252,943.1 1253.5,962.6 1255,981.9 1256.5,1001.1 1258,1020 1259.5,1038.7 1261,1057 1262.5,1075 1264,1092.5 1265.5,1109.5 1267,1126.1 1268.5,1142.2 1270,1157.7 1271.5,1172.7 1273,1187.1 1274.5,1200.9 1276,1214.2 1277.5,1226.8 1279,1238.9 1280.5,1250.5 1282,1261.4 1283.5,1271.8 1285,1281.7 1286.5,1291 1288,1299.8 1289.5,1308.1 1291,1315.9 1292.5,1323.2 1294,1330.1 1295.5,1336.5 1297,1342.5 1298.5,1348.1 1300,1353.3 1301.5,1358.2 1303,1362.7 1304.5,1366.9 1306,1370.8 1307.5,1374.4 1309,1377.7 1310.5,1380.8 1312,1383.6 1313.5,1386.2 1315,1388.6 1316.5,1390.8 1318,1392.8 1319.5,1394.7 1321,1396.4 1322.5,1397.9 1324,1399.3 1325.5,1400.6 1327,1401.7 1328.5,1402.8 1330,1403.8 1331.5,1404.6 1333,1405.4 1334.5,1406.1 1336,1406.8 1337.5,1407.3 1339,1407.9 1340.5,1408.3 1342,1408.7 1343.5,1409.1 1345,1409.5 1346.5,1409.8 1348,1410 1349.5,1410.3 1351,1410.5 1352.5,1410.7 1354,1410.8 1355.5,1411 1357,1411.1 1358.5,1411.2 1360,1411.3 1361.5,1411.4"/><polyline fill="none" stroke="#FF80C0" stroke-width="5.4" stroke-linejoin="round" points="1163.5,1411.4 1165,1411.3 1166.5,1411.2 1168,1411.1 1169.5,1411 1171,1410.8 1172.5,1410.7 1174,1410.5 1175.5,1410.3 1177,1410 1178.5,1409.8 1180,1409.5 1181.5,1409.1 1183,1408.8 1184.5,1408.3 1186,1407.9 1187.5,1407.4 1189,1406.8 1190.5,1406.2 1192,1405.5 1193.5,1404.7 1195,1403.9 1196.5,1403 1198,1401.9 1199.5,1400.8 1201,1399.6 1202.5,1398.2 1204,1396.7 1205.5,1395.1 1207,1393.3 1208.5,1391.3 1210,1389.2 1211.5,1386.9 1213,1384.4 1214.5,1381.6 1216,1378.7 1217.5,1375.4 1219,1372 1220.5,1368.2 1222,1364.1 1223.5,1359.7 1225,1355 1226.5,1350 1228,1344.5 1229.5,1338.7 1231,1332.4 1232.5,1325.8 1234,1318.6 1235.5,1311.1 1237,1303 1238.5,1294.4 1240,1285.3 1241.5,1275.7 1243,1265.5 1244.5,1254.8 1246,1243.5 1247.5,1231.6 1249,1219.1 1250.5,1206 1252,1192.3 1253.5,1178 1255,1163.2 1256.5,1147.7 1258,1131.7 1259.5,1115 1261,1097.9 1262.5,1080.2 1264,1062.1 1265.5,1043.4 1267,1024.4 1268.5,1005 1270,985.2 1271.5,965.2 1273,945 1274.5,924.6 1276,904.1 1277.5,883.6 1279,863.2 1280.5,842.9 1282,822.8 1283.5,803.1 1285,783.8 1286.5,765 1288,746.8 1289.5,729.3 1291,712.5 1292.5,696.7 1294,681.8 1295.5,668 1297,655.2 1298.5,643.7 1300,633.5 1301.5,624.7 1303,617.2 1304.5,611.2 1306,606.6 1307.5,603.6 1309,602.1 1310.5,602.2 1312,603.8 1313.5,606.9 1315,611.6 1316.5,617.7 1318,625.3 1319.5,634.2 1321,644.6 1322.5,656.1 1324,668.9 1325.5,682.9 1327,697.8 1328.5,713.7 1330,730.5 1331.5,748.1 1333,766.4 1334.5,785.2 1336,804.6 1337.5,824.3 1339,844.4 1340.5,864.7 1342,885.1 1343.5,905.6 1345,926.1 1346.5,946.5 1348,966.7 1349.5,986.7 1351,1006.4 1352.5,1025.8 1354,1044.8 1355.5,1063.4 1357,1081.6 1358.5,1099.2 1360,1116.3 1361.5,1132.9 1363,1148.9 1364.5,1164.3 1366,1179.1 1367.5,1193.4 1369,1207 1370.5,1220 1372,1232.5 1373.5,1244.3 1375,1255.6 1376.5,1266.3 1378,1276.4 1379.5,1286 1381,1295.1 1382.5,1303.6 1384,1311.6 1385.5,1319.2 1387,1326.3 1388.5,1332.9 1390,1339.1 1391.5,1344.9 1393,1350.3 1394.5,1355.4 1396,1360.1 1397.5,1364.4 1399,1368.5 1400.5,1372.2 1402,1375.7 1403.5,1378.9 1405,1381.8 1406.5,1384.6 1408,1387.1 1409.5,1389.4 1411,1391.5 1412.5,1393.4 1414,1395.2 1415.5,1396.8 1417,1398.3 1418.5,1399.7 1420,1400.9 1421.5,1402 1423,1403 1424.5,1404 1426,1404.8 1427.5,1405.6 1429,1406.2 1430.5,1406.9 1432,1407.4 1433.5,1407.9 1435,1408.4 1436.5,1408.8 1438,1409.2 1439.5,1409.5 1441,1409.8 1442.5,1410 1444,1410.3 1445.5,1410.5 1447,1410.7 1448.5,1410.8 1450,1411 1451.5,1411.1 1453,1411.2 1454.5,1411.3 1456,1411.4"/><polyline fill="none" stroke="#FF9966" stroke-width="5.4" stroke-linejoin="round" points="1264,1411.4 1265.5,1411.3 1267,1411.2 1268.5,1411.1 1270,1410.9 1271.5,1410.7 1273,1410.5 1274.5,1410.3 1276,1410.1 1277.5,1409.8 1279,1409.4 1280.5,1409.1 1282,1408.7 1283.5,1408.2 1285,1407.7 1286.5,1407.1 1288,1406.4 1289.5,1405.7 1291,1404.9 1292.5,1404 1294,1403 1295.5,1401.9 1297,1400.7 1298.5,1399.4 1300,1397.9 1301.5,1396.3 1303,1394.6 1304.5,1392.6 1306,1390.5 1307.5,1388.2 1309,1385.7 1310.5,1383 1312,1380.1 1313.5,1376.9 1315,1373.5 1316.5,1369.8 1318,1365.9 1319.5,1361.7 1321,1357.1 1322.5,1352.3 1324,1347.2 1325.5,1341.8 1327,1336.1 1328.5,1330 1330,1323.6 1331.5,1317 1333,1310 1334.5,1302.7 1336,1295.1 1337.5,1287.3 1339,1279.2 1340.5,1270.9 1342,1262.4 1343.5,1253.7 1345,1244.8 1346.5,1235.9 1348,1226.9 1349.5,1217.9 1351,1208.9 1352.5,1200 1354,1191.2 1355.5,1182.7 1357,1174.3 1358.5,1166.3 1360,1158.7 1361.5,1151.5 1363,1144.7 1364.5,1138.5 1366,1132.9 1367.5,1128 1369,1123.7 1370.5,1120.1 1372,1117.3 1373.5,1115.3 1375,1114 1376.5,1113.6 1378,1114 1379.5,1115.2 1381,1117.2 1382.5,1120 1384,1123.5 1385.5,1127.7 1387,1132.7 1388.5,1138.2 1390,1144.4 1391.5,1151.1 1393,1158.3 1394.5,1165.9 1396,1173.9 1397.5,1182.2 1399,1190.7 1400.5,1199.5 1402,1208.4 1403.5,1217.4 1405,1226.4 1406.5,1235.4 1408,1244.3 1409.5,1253.2 1411,1261.9 1412.5,1270.4 1414,1278.8 1415.5,1286.9 1417,1294.7 1418.5,1302.3 1420,1309.6 1421.5,1316.6 1423,1323.3 1424.5,1329.7 1426,1335.7 1427.5,1341.5 1429,1346.9 1430.5,1352.1 1432,1356.9 1433.5,1361.4 1435,1365.7 1436.5,1369.6 1438,1373.3 1439.5,1376.7 1441,1379.9 1442.5,1382.9 1444,1385.6 1445.5,1388.1 1447,1390.4 1448.5,1392.5 1450,1394.5 1451.5,1396.2 1453,1397.8 1454.5,1399.3 1456,1400.7 1457.5,1401.9 1459,1403 1460.5,1404 1462,1404.9 1463.5,1405.7 1465,1406.4 1466.5,1407.1 1468,1407.6 1469.5,1408.2 1471,1408.6 1472.5,1409.1 1474,1409.4 1475.5,1409.8 1477,1410 1478.5,1410.3 1480,1410.5 1481.5,1410.7 1483,1410.9 1484.5,1411.1 1486,1411.2 1487.5,1411.3 1489,1411.4"/><polyline fill="none" stroke="#3A6AA6" stroke-width="5.4" stroke-linejoin="round" points="1261,1411.4 1262.5,1411.3 1264,1411.2 1265.5,1411.1 1267,1410.9 1268.5,1410.8 1270,1410.6 1271.5,1410.4 1273,1410.2 1274.5,1409.9 1276,1409.7 1277.5,1409.4 1279,1409 1280.5,1408.6 1282,1408.2 1283.5,1407.7 1285,1407.2 1286.5,1406.6 1288,1405.9 1289.5,1405.2 1291,1404.4 1292.5,1403.5 1294,1402.6 1295.5,1401.5 1297,1400.3 1298.5,1399 1300,1397.6 1301.5,1396.1 1303,1394.4 1304.5,1392.6 1306,1390.6 1307.5,1388.5 1309,1386.1 1310.5,1383.6 1312,1380.8 1313.5,1377.8 1315,1374.6 1316.5,1371.2 1318,1367.5 1319.5,1363.5 1321,1359.2 1322.5,1354.6 1324,1349.7 1325.5,1344.5 1327,1338.9 1328.5,1333 1330,1326.8 1331.5,1320.1 1333,1313.1 1334.5,1305.7 1336,1298 1337.5,1289.8 1339,1281.2 1340.5,1272.2 1342,1262.9 1343.5,1253.1 1345,1243 1346.5,1232.5 1348,1221.6 1349.5,1210.4 1351,1198.9 1352.5,1187.1 1354,1175.1 1355.5,1162.8 1357,1150.3 1358.5,1137.6 1360,1124.8 1361.5,1112 1363,1099.1 1364.5,1086.3 1366,1073.6 1367.5,1061 1369,1048.7 1370.5,1036.6 1372,1024.9 1373.5,1013.5 1375,1002.7 1376.5,992.4 1378,982.6 1379.5,973.6 1381,965.3 1382.5,957.7 1384,951 1385.5,945.1 1387,940.1 1388.5,936.1 1390,933.1 1391.5,931.1 1393,930.1 1394.5,930.1 1396,931.1 1397.5,933.1 1399,936.2 1400.5,940.2 1402,945.2 1403.5,951 1405,957.8 1406.5,965.4 1408,973.7 1409.5,982.8 1411,992.5 1412.5,1002.8 1414,1013.7 1415.5,1025 1417,1036.8 1418.5,1048.9 1420,1061.2 1421.5,1073.8 1423,1086.5 1424.5,1099.3 1426,1112.2 1427.5,1125 1429,1137.8 1430.5,1150.4 1432,1162.9 1433.5,1175.2 1435,1187.3 1436.5,1199.1 1438,1210.6 1439.5,1221.8 1441,1232.6 1442.5,1243.1 1444,1253.3 1445.5,1263 1447,1272.4 1448.5,1281.3 1450,1289.9 1451.5,1298.1 1453,1305.8 1454.5,1313.2 1456,1320.2 1457.5,1326.9 1459,1333.1 1460.5,1339 1462,1344.6 1463.5,1349.8 1465,1354.7 1466.5,1359.2 1468,1363.5 1469.5,1367.5 1471,1371.2 1472.5,1374.7 1474,1377.9 1475.5,1380.9 1477,1383.6 1478.5,1386.1 1480,1388.5 1481.5,1390.6 1483,1392.6 1484.5,1394.5 1486,1396.1 1487.5,1397.7 1489,1399.1 1490.5,1400.3 1492,1401.5 1493.5,1402.6 1495,1403.5 1496.5,1404.4 1498,1405.2 1499.5,1405.9 1501,1406.6 1502.5,1407.2 1504,1407.7 1505.5,1408.2 1507,1408.6 1508.5,1409 1510,1409.4 1511.5,1409.7 1513,1409.9 1514.5,1410.2 1516,1410.4 1517.5,1410.6 1519,1410.8 1520.5,1410.9 1522,1411.1 1523.5,1411.2 1525,1411.3 1526.5,1411.4"/><polyline fill="none" stroke="#4A80C0" stroke-width="5.4" stroke-linejoin="round" points="1549,1411.4 1550.5,1411.3 1552,1411.3 1553.5,1411.1 1555,1411 1556.5,1410.9 1558,1410.8 1559.5,1410.6 1561,1410.5 1562.5,1410.3 1564,1410.1 1565.5,1409.8 1567,1409.6 1568.5,1409.3 1570,1409 1571.5,1408.7 1573,1408.3 1574.5,1408 1576,1407.5 1577.5,1407.1 1579,1406.5 1580.5,1406 1582,1405.4 1583.5,1404.7 1585,1404 1586.5,1403.2 1588,1402.3 1589.5,1401.4 1591,1400.4 1592.5,1399.3 1594,1398.2 1595.5,1396.9 1597,1395.5 1598.5,1394 1600,1392.5 1601.5,1390.7 1603,1388.9 1604.5,1386.9 1606,1384.8 1607.5,1382.6 1609,1380.1 1610.5,1377.6 1612,1374.8 1613.5,1371.8 1615,1368.7 1616.5,1365.4 1618,1361.8 1619.5,1358.1 1621,1354.1 1622.5,1349.8 1624,1345.4 1625.5,1340.6 1627,1335.7 1628.5,1330.4 1630,1324.9 1631.5,1319.1 1633,1313 1634.5,1306.7 1636,1300 1637.5,1293 1639,1285.8 1640.5,1278.2 1642,1270.3 1643.5,1262.2 1645,1253.7 1646.5,1244.9 1648,1235.9 1649.5,1226.5 1651,1216.9 1652.5,1207 1654,1196.9 1655.5,1186.6 1657,1176 1658.5,1165.2 1660,1154.2 1661.5,1143.1 1663,1131.9 1664.5,1120.5 1666,1109.1 1667.5,1097.6 1669,1086.1 1670.5,1074.6 1672,1063.2 1673.5,1051.9 1675,1040.7 1676.5,1029.7 1678,1018.9 1679.5,1008.4 1681,998.2 1682.5,988.3 1684,978.8 1685.5,969.8 1687,961.2 1688.5,953.1 1690,945.6 1691.5,938.6 1693,932.3 1694.5,926.6 1696,921.6 1697.5,917.3 1699,913.7 1700.5,910.9 1702,908.8 1703.5,907.5 1705,907 1706.5,907.2 1708,908.3 1709.5,910.1 1711,912.7 1712.5,916 1714,920 1715.5,924.8 1717,930.2 1718.5,936.3 1720,943.1 1721.5,950.4 1723,958.3 1724.5,966.7 1726,975.6 1727.5,985 1729,994.7 1730.5,1004.8 1732,1015.3 1733.5,1026 1735,1036.9 1736.5,1048 1738,1059.3 1739.5,1070.7 1741,1082.1 1742.5,1093.6 1744,1105.1 1745.5,1116.5 1747,1127.9 1748.5,1139.2 1750,1150.4 1751.5,1161.4 1753,1172.3 1754.5,1182.9 1756,1193.4 1757.5,1203.6 1759,1213.5 1760.5,1223.2 1762,1232.7 1763.5,1241.8 1765,1250.7 1766.5,1259.2 1768,1267.5 1769.5,1275.5 1771,1283.2 1772.5,1290.5 1774,1297.6 1775.5,1304.4 1777,1310.9 1778.5,1317 1780,1322.9 1781.5,1328.5 1783,1333.9 1784.5,1339 1786,1343.8 1787.5,1348.3 1789,1352.6 1790.5,1356.7 1792,1360.5 1793.5,1364.2 1795,1367.6 1796.5,1370.8 1798,1373.8 1799.5,1376.6 1801,1379.3 1802.5,1381.7 1804,1384.1 1805.5,1386.2 1807,1388.2 1808.5,1390.1 1810,1391.9 1811.5,1393.5 1813,1395 1814.5,1396.4 1816,1397.7 1817.5,1398.9 1819,1400 1820.5,1401.1 1822,1402 1823.5,1402.9 1825,1403.7 1826.5,1404.5 1828,1405.1 1829.5,1405.8 1831,1406.4 1832.5,1406.9 1834,1407.4 1835.5,1407.8 1837,1408.2 1838.5,1408.6 1840,1408.9 1841.5,1409.2 1843,1409.5 1844.5,1409.8 1846,1410 1847.5,1410.2 1849,1410.4 1850.5,1410.6 1852,1410.7 1853.5,1410.9 1855,1411 1856.5,1411.1 1858,1411.2 1859.5,1411.3 1861,1411.4"/><polyline fill="none" stroke="#8068A8" stroke-width="5.4" stroke-linejoin="round" points="1649.5,1411.4 1651,1411.3 1652.5,1411.1 1654,1411 1655.5,1410.9 1657,1410.7 1658.5,1410.5 1660,1410.3 1661.5,1410.1 1663,1409.8 1664.5,1409.5 1666,1409.2 1667.5,1408.9 1669,1408.5 1670.5,1408 1672,1407.5 1673.5,1407 1675,1406.4 1676.5,1405.7 1678,1405 1679.5,1404.1 1681,1403.2 1682.5,1402.2 1684,1401.1 1685.5,1399.9 1687,1398.6 1688.5,1397.1 1690,1395.5 1691.5,1393.7 1693,1391.8 1694.5,1389.7 1696,1387.4 1697.5,1384.8 1699,1382.1 1700.5,1379.1 1702,1375.9 1703.5,1372.4 1705,1368.6 1706.5,1364.4 1708,1360 1709.5,1355.2 1711,1350 1712.5,1344.4 1714,1338.4 1715.5,1331.9 1717,1324.9 1718.5,1317.5 1720,1309.5 1721.5,1301 1723,1291.9 1724.5,1282.2 1726,1271.9 1727.5,1261 1729,1249.3 1730.5,1237 1732,1224 1733.5,1210.2 1735,1195.6 1736.5,1180.3 1738,1164.2 1739.5,1147.3 1741,1129.6 1742.5,1111.1 1744,1091.7 1745.5,1071.5 1747,1050.5 1748.5,1028.7 1750,1006.1 1751.5,982.7 1753,958.6 1754.5,933.7 1756,908.2 1757.5,882 1759,855.2 1760.5,827.9 1762,800.1 1763.5,771.8 1765,743.3 1766.5,714.5 1768,685.5 1769.5,656.5 1771,627.5 1772.5,598.6 1774,570 1775.5,541.7 1777,513.9 1778.5,486.8 1780,460.3 1781.5,434.7 1783,410.1 1784.5,386.5 1786,364.2 1787.5,343.3 1789,323.7 1790.5,305.8 1792,289.5 1793.5,274.9 1795,262.2 1796.5,251.4 1798,242.6 1799.5,235.9 1801,231.2 1802.5,228.6 1804,228.1 1805.5,229.8 1807,233.5 1808.5,239.4 1810,247.3 1811.5,257.2 1813,269.1 1814.5,282.8 1816,298.3 1817.5,315.6 1819,334.4 1820.5,354.7 1822,376.5 1823.5,399.5 1825,423.6 1826.5,448.8 1828,474.9 1829.5,501.8 1831,529.3 1832.5,557.4 1834,585.8 1835.5,614.6 1837,643.6 1838.5,672.6 1840,701.6 1841.5,730.5 1843,759.2 1844.5,787.6 1846,815.5 1847.5,843.1 1849,870.1 1850.5,896.6 1852,922.4 1853.5,947.6 1855,972.1 1856.5,995.8 1858,1018.7 1859.5,1040.9 1861,1062.3 1862.5,1082.8 1864,1102.5 1865.5,1121.4 1867,1139.5 1868.5,1156.8 1870,1173.3 1871.5,1188.9 1873,1203.8 1874.5,1217.9 1876,1231.3 1877.5,1243.9 1879,1255.9 1880.5,1267.1 1882,1277.7 1883.5,1287.7 1885,1297.1 1886.5,1305.8 1888,1314 1889.5,1321.7 1891,1328.9 1892.5,1335.5 1894,1341.8 1895.5,1347.5 1897,1352.9 1898.5,1357.9 1900,1362.5 1901.5,1366.8 1903,1370.7 1904.5,1374.4 1906,1377.7 1907.5,1380.8 1909,1383.7 1910.5,1386.3 1912,1388.7 1913.5,1390.9 1915,1392.9 1916.5,1394.7 1918,1396.4 1919.5,1397.9 1921,1399.3 1922.5,1400.6 1924,1401.7 1925.5,1402.8 1927,1403.7 1928.5,1404.6 1930,1405.4 1931.5,1406.1 1933,1406.7 1934.5,1407.3 1936,1407.8 1937.5,1408.3 1939,1408.7 1940.5,1409.1 1942,1409.4 1943.5,1409.7 1945,1410 1946.5,1410.2 1948,1410.4 1949.5,1410.6 1951,1410.8 1952.5,1411 1954,1411.1 1955.5,1411.2 1957,1411.3 1958.5,1411.4"/><polyline fill="none" stroke="#8CB04A" stroke-width="5.4" stroke-linejoin="round" points="1747,1411.4 1748.5,1411.3 1750,1411.2 1751.5,1411.1 1753,1410.9 1754.5,1410.8 1756,1410.6 1757.5,1410.4 1759,1410.2 1760.5,1410 1762,1409.7 1763.5,1409.4 1765,1409.1 1766.5,1408.7 1768,1408.3 1769.5,1407.8 1771,1407.3 1772.5,1406.8 1774,1406.1 1775.5,1405.5 1777,1404.7 1778.5,1403.9 1780,1402.9 1781.5,1401.9 1783,1400.8 1784.5,1399.6 1786,1398.3 1787.5,1396.8 1789,1395.2 1790.5,1393.4 1792,1391.5 1793.5,1389.4 1795,1387.1 1796.5,1384.7 1798,1382 1799.5,1379 1801,1375.9 1802.5,1372.4 1804,1368.7 1805.5,1364.7 1807,1360.4 1808.5,1355.7 1810,1350.7 1811.5,1345.4 1813,1339.6 1814.5,1333.4 1816,1326.8 1817.5,1319.7 1819,1312.1 1820.5,1304 1822,1295.5 1823.5,1286.3 1825,1276.6 1826.5,1266.4 1828,1255.5 1829.5,1244 1831,1231.9 1832.5,1219.1 1834,1205.7 1835.5,1191.6 1837,1176.8 1838.5,1161.4 1840,1145.2 1841.5,1128.4 1843,1110.9 1844.5,1092.6 1846,1073.8 1847.5,1054.2 1849,1034.1 1850.5,1013.3 1852,991.9 1853.5,970 1855,947.6 1856.5,924.7 1858,901.4 1859.5,877.7 1861,853.8 1862.5,829.6 1864,805.3 1865.5,780.9 1867,756.5 1868.5,732.2 1870,708.1 1871.5,684.3 1873,660.8 1874.5,637.9 1876,615.5 1877.5,593.8 1879,572.9 1880.5,552.9 1882,533.9 1883.5,516 1885,499.3 1886.5,483.9 1888,469.8 1889.5,457.3 1891,446.2 1892.5,436.7 1894,428.9 1895.5,422.8 1897,418.4 1898.5,415.8 1900,415 1901.5,415.9 1903,418.6 1904.5,423.1 1906,429.3 1907.5,437.2 1909,446.8 1910.5,457.9 1912,470.6 1913.5,484.7 1915,500.2 1916.5,516.9 1918,534.9 1919.5,553.9 1921,574 1922.5,594.9 1924,616.7 1925.5,639.1 1927,662.1 1928.5,685.5 1930,709.4 1931.5,733.5 1933,757.8 1934.5,782.2 1936,806.6 1937.5,830.9 1939,855.1 1940.5,879 1942,902.7 1943.5,925.9 1945,948.8 1946.5,971.2 1948,993.1 1949.5,1014.4 1951,1035.1 1952.5,1055.3 1954,1074.8 1955.5,1093.6 1957,1111.8 1958.5,1129.3 1960,1146.1 1961.5,1162.2 1963,1177.7 1964.5,1192.4 1966,1206.5 1967.5,1219.8 1969,1232.6 1970.5,1244.7 1972,1256.1 1973.5,1266.9 1975,1277.2 1976.5,1286.8 1978,1295.9 1979.5,1304.5 1981,1312.5 1982.5,1320.1 1984,1327.1 1985.5,1333.7 1987,1339.9 1988.5,1345.7 1990,1351 1991.5,1356 1993,1360.6 1994.5,1364.9 1996,1368.9 1997.5,1372.6 1999,1376 2000.5,1379.2 2002,1382.1 2003.5,1384.8 2005,1387.3 2006.5,1389.5 2008,1391.6 2009.5,1393.5 2011,1395.3 2012.5,1396.9 2014,1398.3 2015.5,1399.7 2017,1400.9 2018.5,1402 2020,1403 2021.5,1403.9 2023,1404.7 2024.5,1405.5 2026,1406.2 2027.5,1406.8 2029,1407.4 2030.5,1407.9 2032,1408.3 2033.5,1408.7 2035,1409.1 2036.5,1409.4 2038,1409.7 2039.5,1410 2041,1410.2 2042.5,1410.4 2044,1410.6 2045.5,1410.8 2047,1410.9 2048.5,1411.1 2050,1411.2 2051.5,1411.3 2053,1411.4"/><polyline fill="none" stroke="#7A9A3E" stroke-width="5.4" stroke-linejoin="round" points="1828,1411.4 1829.5,1411.3 1831,1411.2 1832.5,1411.1 1834,1411 1835.5,1410.8 1837,1410.7 1838.5,1410.5 1840,1410.3 1841.5,1410 1843,1409.8 1844.5,1409.5 1846,1409.2 1847.5,1408.8 1849,1408.4 1850.5,1408 1852,1407.5 1853.5,1407 1855,1406.4 1856.5,1405.8 1858,1405.1 1859.5,1404.3 1861,1403.4 1862.5,1402.5 1864,1401.5 1865.5,1400.3 1867,1399.1 1868.5,1397.8 1870,1396.3 1871.5,1394.7 1873,1393 1874.5,1391.2 1876,1389.2 1877.5,1387 1879,1384.6 1880.5,1382.1 1882,1379.4 1883.5,1376.5 1885,1373.4 1886.5,1370 1888,1366.4 1889.5,1362.6 1891,1358.5 1892.5,1354.2 1894,1349.6 1895.5,1344.7 1897,1339.5 1898.5,1334 1900,1328.3 1901.5,1322.2 1903,1315.8 1904.5,1309.2 1906,1302.2 1907.5,1294.9 1909,1287.3 1910.5,1279.4 1912,1271.2 1913.5,1262.8 1915,1254.1 1916.5,1245.1 1918,1235.9 1919.5,1226.4 1921,1216.8 1922.5,1207 1924,1197.1 1925.5,1187.1 1927,1177 1928.5,1166.8 1930,1156.7 1931.5,1146.6 1933,1136.6 1934.5,1126.7 1936,1117 1937.5,1107.6 1939,1098.4 1940.5,1089.6 1942,1081.1 1943.5,1073.1 1945,1065.6 1946.5,1058.5 1948,1052.1 1949.5,1046.3 1951,1041.1 1952.5,1036.5 1954,1032.7 1955.5,1029.7 1957,1027.4 1958.5,1025.9 1960,1025.1 1961.5,1025.2 1963,1026 1964.5,1027.7 1966,1030.1 1967.5,1033.3 1969,1037.2 1970.5,1041.8 1972,1047.1 1973.5,1053 1975,1059.5 1976.5,1066.6 1978,1074.2 1979.5,1082.3 1981,1090.8 1982.5,1099.7 1984,1108.9 1985.5,1118.4 1987,1128.1 1988.5,1138 1990,1148 1991.5,1158.1 1993,1168.3 1994.5,1178.4 1996,1188.5 1997.5,1198.5 1999,1208.4 2000.5,1218.2 2002,1227.8 2003.5,1237.2 2005,1246.4 2006.5,1255.3 2008,1264 2009.5,1272.4 2011,1280.6 2012.5,1288.4 2014,1296 2015.5,1303.2 2017,1310.1 2018.5,1316.8 2020,1323.1 2021.5,1329.1 2023,1334.8 2024.5,1340.3 2026,1345.4 2027.5,1350.2 2029,1354.8 2030.5,1359.1 2032,1363.1 2033.5,1366.9 2035,1370.5 2036.5,1373.8 2038,1376.9 2039.5,1379.8 2041,1382.5 2042.5,1385 2044,1387.3 2045.5,1389.5 2047,1391.5 2048.5,1393.3 2050,1395 2051.5,1396.5 2053,1398 2054.5,1399.3 2056,1400.5 2057.5,1401.6 2059,1402.6 2060.5,1403.6 2062,1404.4 2063.5,1405.2 2065,1405.9 2066.5,1406.5 2068,1407.1 2069.5,1407.6 2071,1408.1 2072.5,1408.5 2074,1408.9 2075.5,1409.2 2077,1409.5 2078.5,1409.8 2080,1410.1 2081.5,1410.3 2083,1410.5 2084.5,1410.7 2086,1410.9 2087.5,1411 2089,1411.1 2090.5,1411.2 2092,1411.3 2093.5,1411.4"/></g>
<line x1="384.3" y1="1412.1" x2="2333" y2="1412.1" stroke="#F04E00" stroke-width="6"/>
<g><polyline fill="none" stroke="#AC2A5A" stroke-width="6.6" stroke-linejoin="miter" stroke-miterlimit="2" points="386,1432.2 388.3,1382.5 391.3,1340.4 394.3,1318.5 397.8,1322.3 398.1,1381 402.6,1402.1 409.4,1352.4 411.9,1363 414.6,1478.9 418.4,1456.3 420.7,1402.1 425.2,1405.1 426.7,1454.8 428.9,1478.9 440.2,1438.3 442,1478.9 443.3,1334.3 448.5,1310.2 452,1352.4 452.6,1396.1 455.3,1415.7 459.1,1429.2 461.3,1349.4 465.8,1337.3 469.6,1341.9 470.4,1400.6 472.6,1462.3 478.6,1474.4 482.4,1451.8 483.9,1385.5 486.2,1355.4 488.7,1385.5 489.9,1444.3 494.5,1444.3 496.7,1363 500.5,1361.4 503.5,1418.7 505.8,1444.3 512.5,1432.2 514,1382.5 517.8,1319.3 521.6,1328.3 524.6,1346.4 527.6,1388.6 532.1,1391.6 536.6,1427.7 541.1,1409.6 543.4,1387 547.2,1399.1 550.2,1430.7 554.7,1435.2 560,1445.8 563.7,1469.9 567.5,1423.2 569.8,1382.5 575.8,1340.4 578.8,1314.8 582.6,1334.3 584.1,1359.9 587.1,1400.6 588.6,1444.3 593.9,1427.7 595.4,1369 599.9,1346.4 602.9,1329.8 608.9,1314.8 612.7,1320.8 614.9,1352.4 618,1381 622.5,1394.6 628.5,1352.4 634.5,1329.8 636,1373.5 641.3,1429.2 644.3,1322.3 649.6,1299.7 651.1,1367.5 654.1,1462.3 657.9,1463.9 658.6,1370.5 663.1,1367.5 669.2,1361.4 675.2,1337.3 678.9,1302.7 683.4,1318.1 690.6,1341.2 696.4,1358.6 702.2,1367.3 705.1,1456.9 709.4,1451.1 709.4,1321 713.7,1234.2 718.1,1254.5 723.9,1271.8 729.6,1289.2 732.5,1332.6 738.3,1280.5 741.2,1231.3 745.6,1188 748.4,1135.9 754.2,1109.9 758.6,1086.8 777.8,1055 783.6,991.4 787.5,927.8 791.3,893.1 796.2,858.3 799.1,812.1 804.8,775.4 809.7,798.6 810.6,871.8 812.6,960.5 814.5,1030 816.4,1060.8 824.1,1030 828,1060.8 833.8,1080.1 836.6,1086.8 845.3,1104.1 846.8,1167.7 852.6,1199.5 855.4,1231.3 858.3,1277.6 862.7,1286.3 867,1161.9 871.3,1188 874.2,1283.4 875.7,1335.5 880,1289.2 888.7,1289.2 894.5,1309.4 898.8,1274.7 899.9,1273.2 903.8,1309 905.8,1354.7 911.8,1352.7 913.8,1328.9 917.8,1316.9 925.7,1316.9 931.7,1289.1 935.6,1285.1 939.6,1289.1 943.6,1293.1 947.6,1318.9 949.6,1289.1 951.5,1251.4 957.5,1243.4 961.5,1249.4 963.5,1273.2 967.4,1277.2 969.4,1301 971.4,1322.9 975.4,1324.9 975.4,1356.7 979.4,1368.6 981.4,1408.3 985.3,1368.6 985.3,1334.8 991.3,1334.8 995.3,1338.8 999.2,1346.7 999.2,1293.1 1002.2,1241.4 1005.2,1239.4 1009.2,1247.4 1011.2,1271.2 1015.1,1277.2 1017.1,1318.9 1023.1,1324.9 1026.1,1362.6 1029,1324.9 1031,1277.2 1035,1273.2 1037,1221.5 1041,1245.4 1044.9,1249.4 1045.9,1277.2 1048.9,1245.4 1049.9,1209.6 1052.9,1169.9 1056.9,1161.9 1057.2,1143.8 1063.8,1135.9 1069.1,1149.1 1074.4,1117.4 1079.7,1114.7 1082.4,1072.3 1086.4,1011.4 1093,1006.1 1098.3,1011.4 1108.9,1011.4 1110.2,1064.4 1111.5,1024.6 1114.2,958.4 1124.8,945.2 1130.1,884.2 1134,900.1 1139.3,826 1142.3,828 1143.3,793.2 1146.9,789.1 1147.4,769.6 1150.5,767.6 1154.6,772.7 1157.2,783 1157.7,756.3 1160.2,745 1163.8,749.1 1167.9,779.9 1171,775.8 1171.5,744 1172,718.4 1178.2,718.4 1181.2,740.9 1182.8,718.4 1186.4,684.6 1190.5,687.7 1191.5,727.6 1194.5,725.6 1201.7,705.1 1203.8,660 1206.2,630 1209.8,658.9 1213.4,716.7 1217,615.5 1222.4,622.7 1229.7,637.2 1235.1,617.3 1238.7,617.3 1240.5,640.8 1242.3,695 1245.9,731.2 1249.6,713.1 1253.2,677 1255,631.8 1258.6,633.6 1262.2,649.8 1264,696.8 1267.6,658.9 1271.2,631.8 1276.7,613.7 1280.3,622.7 1282.1,677 1285.7,682.4 1289.3,649.8 1291.1,622.7 1292.9,568.5 1294.8,528.7 1298.4,483.5 1302,501.6 1307.4,510.6 1312.8,514.2 1314.6,561.2 1318.3,586.6 1321.9,622.7 1325.5,572.1 1328.9,570.6 1333.7,580.2 1336.6,588 1338.6,622.7 1342.4,645.8 1346.3,611.1 1347.2,549.4 1351.1,522.4 1354.9,503.1 1357.8,524.3 1361.7,530.1 1363.6,614.9 1367.5,630.4 1370.4,557.1 1372.3,518.6 1376.1,514.7 1381,522.4 1382.9,537.8 1384.8,537.8 1385.8,576.4 1387.7,626.5 1390.6,672.8 1392.5,699.8 1396.4,701.7 1400.2,659.3 1403.1,688.2 1405.1,769.2 1408,800 1408.2,841.4 1414.3,923.2 1420.5,943.7 1424.5,1025.5 1428.6,1086.9 1434.8,1127.8 1436.8,1189.2 1445,1230.1 1453.2,1271 1459.3,1303.7 1465.5,1324.2 1471.3,1310.8 1479.2,1293.6 1483.9,1314 1485.4,1350 1488.6,1353.1 1490.1,1376.6 1494.8,1382.9 1499.5,1400.1 1502.6,1423.6 1505.8,1428.3 1508.9,1392.3 1508.9,1350 1513.6,1343.7 1519.9,1335.9 1523,1317.1 1526.1,1271.7 1530.1,1263.9 1534,1295.2 1537.1,1314 1543.4,1314 1546.5,1329.6 1548.1,1365.7 1551.2,1387.6 1554.3,1367.2 1559,1346.9 1562.2,1357.8 1566.9,1364.1 1570,1397 1574.7,1379.7 1576.3,1357.8 1581,1342.2 1584.1,1290.5 1588,1251.3 1591.9,1267 1595.1,1306.1 1602.9,1307.7 1604.4,1274.8 1609.1,1223.1 1612.3,1235.7 1613.8,1290.5 1617,1314 1621.7,1329.6 1624.8,1376.6 1627.9,1382.9 1631.1,1353.1 1634.2,1314 1637.3,1235.7 1640.3,1196.2 1647,1192.8 1652.1,1155.7 1657.1,1111.8 1662.2,1064.6 1667.3,1034.2 1677.4,1024.1 1684.1,980.2 1694.3,970 1697.6,936.3 1701,895.8 1707.8,909.3 1712.8,909.3 1717.9,872.2 1721.3,862 1728,835 1729.7,787.8 1734.8,750.6 1741.5,747.3 1742.6,635.6 1748.1,581.4 1753.5,527.3 1758.9,491.1 1764.3,444.2 1769.7,397.2 1776.9,382.8 1780.6,346.7 1784.2,328.6 1789.6,310.6 1795,245.6 1798.6,184.2 1802.2,155.3 1807.6,184.2 1811.3,227.5 1816.7,231.1 1820.3,256.4 1823.9,310.6 1827.5,274.5 1831.1,267.2 1834.7,310.6 1838.3,368.4 1845.6,379.2 1852.8,400.9 1858.2,437 1865.4,462.2 1870.8,408.1 1874.5,382.8 1878.1,368.4 1883.5,404.5 1890.4,371.8 1893.8,348.1 1900.5,294.1 1907.3,290.8 1912.3,297.5 1915.7,260.4 1922.4,297.5 1927.5,375.1 1930.9,439.3 1935.9,473 1941,533.8 1944.4,584.4 1946.1,641.8 1951.1,736.3 1956.2,685.7 1957.9,604.7 1961.3,628.3 1964.6,719.5 1966.3,790.3 1966.6,813.2 1970.7,911.4 1978.9,915.5 1980.9,985 1983,1079.1 1991.1,1087.3 1997.3,1169.2 2005.5,1230.5 2013.6,1271.5 2023.9,1291.9 2032.1,1304.2 2038.2,1353.3 2044.3,1373.7 2047.2,1436 2050.4,1439.2 2053.5,1428.2 2055,1342.1 2059.7,1342.1 2061.3,1359.3 2064.4,1414.1 2067.6,1345.2 2070.7,1342.1 2073.8,1356.2 2075.4,1426.7 2078.5,1418.8 2080.1,1384.4 2083.2,1381.3 2084.8,1345.2 2089.5,1335.9 2095.8,1332.7 2102,1339 2103.6,1379.7 2109.8,1382.8 2111.4,1354.6 2113,1329.6 2115.3,1295.1 2119.2,1268.5 2123.9,1251.3 2127.1,1238.8 2130.2,1295.1 2131.8,1398.5 2134.9,1420.4 2138,1360.9 2139.6,1299.8 2144.3,1293.6 2149,1293.6 2150.5,1329.6 2153.7,1332.7 2155.2,1353.1 2158.4,1371.9 2161.5,1364 2164.6,1332.7 2166.2,1301.4 2169.3,1268.5 2172.5,1251.3 2177.2,1279.5 2178.7,1326.5 2180.3,1357.8 2185,1378.1 2188.1,1345.2 2191,1345.2 2192.5,1310.8 2197.2,1307.7 2198.8,1295.1 2201.9,1251.3 2208.2,1248.2 2211.3,1256 2216,1293.6 2217.6,1320.2 2222.3,1329.6 2225.4,1339 2228.5,1317.1 2230.1,1279.5 2233.2,1273.2 2236.4,1293.6 2237.9,1367.2 2240.3,1360.9 2242.6,1360.9 2244.2,1277.9 2247.3,1282.6 2248.9,1332.7 2250.5,1403.2 2253.6,1401.6 2255.1,1339 2256.7,1288.9 2259.8,1288.9 2261.4,1296.7 2266.1,1295.1 2270.8,1284.2 2273.9,1285.8 2275.5,1360.9 2277.1,1375 2280.2,1370.3 2282.5,1301.4 2284.9,1301.4 2288,1317.1 2289.6,1360.9 2292.7,1389.1 2297.4,1384.4 2300.5,1339 2303.7,1335.9 2306.8,1354.6 2308.4,1373.4 2311.5,1400 2316.2,1412.6 2319.3,1387.5 2320.9,1329.6 2325.6,1315.5 2328.7,1320.2 2330.3,1392.2"/></g>
<g><line x1="381.3" y1="113" x2="381.3" y2="1559" stroke="#000" stroke-width="7"/><line x1="377.8" y1="1483.3" x2="2340" y2="1483.3" stroke="#000" stroke-width="7"/><line x1="350.5" y1="1477.7" x2="381.3" y2="1477.7" stroke="#000" stroke-width="6.5"/><line x1="350.5" y1="1444.9" x2="381.3" y2="1444.9" stroke="#000" stroke-width="6.5"/><line x1="332.5" y1="1412.1" x2="381.3" y2="1412.1" stroke="#000" stroke-width="6.5"/><line x1="350.5" y1="1379.3" x2="381.3" y2="1379.3" stroke="#000" stroke-width="6.5"/><line x1="350.5" y1="1346.5" x2="381.3" y2="1346.5" stroke="#000" stroke-width="6.5"/><line x1="350.5" y1="1313.7" x2="381.3" y2="1313.7" stroke="#000" stroke-width="6.5"/><line x1="350.5" y1="1280.9" x2="381.3" y2="1280.9" stroke="#000" stroke-width="6.5"/><line x1="332.5" y1="1248.1" x2="381.3" y2="1248.1" stroke="#000" stroke-width="6.5"/><line x1="350.5" y1="1215.3" x2="381.3" y2="1215.3" stroke="#000" stroke-width="6.5"/><line x1="350.5" y1="1182.5" x2="381.3" y2="1182.5" stroke="#000" stroke-width="6.5"/><line x1="350.5" y1="1149.7" x2="381.3" y2="1149.7" stroke="#000" stroke-width="6.5"/><line x1="350.5" y1="1116.9" x2="381.3" y2="1116.9" stroke="#000" stroke-width="6.5"/><line x1="332.5" y1="1084.1" x2="381.3" y2="1084.1" stroke="#000" stroke-width="6.5"/><line x1="350.5" y1="1051.3" x2="381.3" y2="1051.3" stroke="#000" stroke-width="6.5"/><line x1="350.5" y1="1018.5" x2="381.3" y2="1018.5" stroke="#000" stroke-width="6.5"/><line x1="350.5" y1="985.7" x2="381.3" y2="985.7" stroke="#000" stroke-width="6.5"/><line x1="350.5" y1="952.9" x2="381.3" y2="952.9" stroke="#000" stroke-width="6.5"/><line x1="332.5" y1="920.1" x2="381.3" y2="920.1" stroke="#000" stroke-width="6.5"/><line x1="350.5" y1="887.3" x2="381.3" y2="887.3" stroke="#000" stroke-width="6.5"/><line x1="350.5" y1="854.5" x2="381.3" y2="854.5" stroke="#000" stroke-width="6.5"/><line x1="350.5" y1="821.7" x2="381.3" y2="821.7" stroke="#000" stroke-width="6.5"/><line x1="350.5" y1="788.9" x2="381.3" y2="788.9" stroke="#000" stroke-width="6.5"/><line x1="332.5" y1="756.1" x2="381.3" y2="756.1" stroke="#000" stroke-width="6.5"/><line x1="350.5" y1="723.3" x2="381.3" y2="723.3" stroke="#000" stroke-width="6.5"/><line x1="350.5" y1="690.5" x2="381.3" y2="690.5" stroke="#000" stroke-width="6.5"/><line x1="350.5" y1="657.7" x2="381.3" y2="657.7" stroke="#000" stroke-width="6.5"/><line x1="350.5" y1="624.9" x2="381.3" y2="624.9" stroke="#000" stroke-width="6.5"/><line x1="332.5" y1="592.1" x2="381.3" y2="592.1" stroke="#000" stroke-width="6.5"/><line x1="350.5" y1="559.3" x2="381.3" y2="559.3" stroke="#000" stroke-width="6.5"/><line x1="350.5" y1="526.5" x2="381.3" y2="526.5" stroke="#000" stroke-width="6.5"/><line x1="350.5" y1="493.7" x2="381.3" y2="493.7" stroke="#000" stroke-width="6.5"/><line x1="350.5" y1="460.9" x2="381.3" y2="460.9" stroke="#000" stroke-width="6.5"/><line x1="332.5" y1="428.1" x2="381.3" y2="428.1" stroke="#000" stroke-width="6.5"/><line x1="350.5" y1="395.3" x2="381.3" y2="395.3" stroke="#000" stroke-width="6.5"/><line x1="350.5" y1="362.5" x2="381.3" y2="362.5" stroke="#000" stroke-width="6.5"/><line x1="350.5" y1="329.7" x2="381.3" y2="329.7" stroke="#000" stroke-width="6.5"/><line x1="350.5" y1="296.9" x2="381.3" y2="296.9" stroke="#000" stroke-width="6.5"/><line x1="332.5" y1="264.1" x2="381.3" y2="264.1" stroke="#000" stroke-width="6.5"/><line x1="350.5" y1="231.3" x2="381.3" y2="231.3" stroke="#000" stroke-width="6.5"/><line x1="350.5" y1="198.5" x2="381.3" y2="198.5" stroke="#000" stroke-width="6.5"/><line x1="350.5" y1="165.7" x2="381.3" y2="165.7" stroke="#000" stroke-width="6.5"/><line x1="350.5" y1="132.9" x2="381.3" y2="132.9" stroke="#000" stroke-width="6.5"/><line x1="381.3" y1="1483" x2="381.3" y2="1558.5" stroke="#000" stroke-width="7"/><line x1="446.2" y1="1483" x2="446.2" y2="1524" stroke="#000" stroke-width="7"/><line x1="511.1" y1="1483" x2="511.1" y2="1524" stroke="#000" stroke-width="7"/><line x1="576" y1="1483" x2="576" y2="1524" stroke="#000" stroke-width="7"/><line x1="640.9" y1="1483" x2="640.9" y2="1524" stroke="#000" stroke-width="7"/><line x1="705.8" y1="1483" x2="705.8" y2="1558.5" stroke="#000" stroke-width="7"/><line x1="770.7" y1="1483" x2="770.7" y2="1524" stroke="#000" stroke-width="7"/><line x1="835.6" y1="1483" x2="835.6" y2="1524" stroke="#000" stroke-width="7"/><line x1="900.5" y1="1483" x2="900.5" y2="1524" stroke="#000" stroke-width="7"/><line x1="965.4" y1="1483" x2="965.4" y2="1524" stroke="#000" stroke-width="7"/><line x1="1030.3" y1="1483" x2="1030.3" y2="1558.5" stroke="#000" stroke-width="7"/><line x1="1095.2" y1="1483" x2="1095.2" y2="1524" stroke="#000" stroke-width="7"/><line x1="1160.1" y1="1483" x2="1160.1" y2="1524" stroke="#000" stroke-width="7"/><line x1="1225" y1="1483" x2="1225" y2="1524" stroke="#000" stroke-width="7"/><line x1="1289.9" y1="1483" x2="1289.9" y2="1524" stroke="#000" stroke-width="7"/><line x1="1354.8" y1="1483" x2="1354.8" y2="1558.5" stroke="#000" stroke-width="7"/><line x1="1419.7" y1="1483" x2="1419.7" y2="1524" stroke="#000" stroke-width="7"/><line x1="1484.6" y1="1483" x2="1484.6" y2="1524" stroke="#000" stroke-width="7"/><line x1="1549.5" y1="1483" x2="1549.5" y2="1524" stroke="#000" stroke-width="7"/><line x1="1614.4" y1="1483" x2="1614.4" y2="1524" stroke="#000" stroke-width="7"/><line x1="1679.3" y1="1483" x2="1679.3" y2="1558.5" stroke="#000" stroke-width="7"/><line x1="1744.2" y1="1483" x2="1744.2" y2="1524" stroke="#000" stroke-width="7"/><line x1="1809.1" y1="1483" x2="1809.1" y2="1524" stroke="#000" stroke-width="7"/><line x1="1874" y1="1483" x2="1874" y2="1524" stroke="#000" stroke-width="7"/><line x1="1938.9" y1="1483" x2="1938.9" y2="1524" stroke="#000" stroke-width="7"/><line x1="2003.8" y1="1483" x2="2003.8" y2="1558.5" stroke="#000" stroke-width="7"/><line x1="2068.7" y1="1483" x2="2068.7" y2="1524" stroke="#000" stroke-width="7"/><line x1="2133.6" y1="1483" x2="2133.6" y2="1524" stroke="#000" stroke-width="7"/><line x1="2198.5" y1="1483" x2="2198.5" y2="1524" stroke="#000" stroke-width="7"/><line x1="2263.4" y1="1483" x2="2263.4" y2="1524" stroke="#000" stroke-width="7"/><line x1="2328.3" y1="1483" x2="2328.3" y2="1558.5" stroke="#000" stroke-width="7"/></g>
<g font-family="Liberation Sans, Arial, sans-serif" fill="#000"><text transform="translate(335,1436.7) scale(0.96,1)" text-anchor="end" font-size="111">0</text><text transform="translate(335,1274.1) scale(0.96,1)" text-anchor="end" font-size="111">5</text><text transform="translate(335,1109.3) scale(0.96,1)" text-anchor="end" font-size="111">10</text><text transform="translate(335,946.7) scale(0.96,1)" text-anchor="end" font-size="111">15</text><text transform="translate(335,784.1) scale(0.96,1)" text-anchor="end" font-size="111">20</text><text transform="translate(335,618.5) scale(0.96,1)" text-anchor="end" font-size="111">25</text><text transform="translate(335,456.1) scale(0.96,1)" text-anchor="end" font-size="111">30</text><text transform="translate(335,293.2) scale(0.96,1)" text-anchor="end" font-size="111">35</text><text transform="translate(380.3,1656) scale(0.953,1)" text-anchor="middle" font-size="111">930</text><text transform="translate(704.8,1656) scale(0.953,1)" text-anchor="middle" font-size="111">920</text><text transform="translate(1029.3,1656) scale(0.953,1)" text-anchor="middle" font-size="111">910</text><text transform="translate(1353.8,1656) scale(0.953,1)" text-anchor="middle" font-size="111">900</text><text transform="translate(1678.3,1656) scale(0.953,1)" text-anchor="middle" font-size="111">890</text><text transform="translate(2002.8,1656) scale(0.953,1)" text-anchor="middle" font-size="111">880</text><text transform="translate(2327.3,1656) scale(0.953,1)" text-anchor="middle" font-size="111">870</text><text x="871" y="1776.3" font-size="109">Binding Energy (eV)</text><text transform="translate(166.4,909) rotate(-90) scale(0.97,1)" font-size="111">CPS x 10<tspan dy="-53.3">-2</tspan></text><text x="702.1" y="719.7" font-size="77" letter-spacing="4.4">Ce</text><text transform="translate(803.9,675) scale(0.95,1)" font-size="56" font-family="Liberation Serif, serif">4+</text><text x="966.1" y="817.6" font-size="77" letter-spacing="4.4">Ce</text><text transform="translate(1067.9,772.9) scale(0.95,1)" font-size="56" font-family="Liberation Serif, serif">4+</text><text x="1071.7" y="583.2" font-size="77" letter-spacing="4.4">Ce</text><text transform="translate(1173.5,538.5) scale(0.95,1)" font-size="56" font-family="Liberation Serif, serif">3+</text><text x="1249.2" y="470.6" font-size="77" letter-spacing="4.4">Ce</text><text transform="translate(1351,425.9) scale(0.95,1)" font-size="56" font-family="Liberation Serif, serif">4+</text><text x="1430.8" y="1036.2" font-size="77" letter-spacing="4.4">Ce</text><text transform="translate(1532.6,991.5) scale(0.95,1)" font-size="56" font-family="Liberation Serif, serif">4+</text><text x="1404.1" y="1217.2" font-size="77" letter-spacing="4.4">Ce</text><text transform="translate(1505.9,1172.5) scale(0.95,1)" font-size="56" font-family="Liberation Serif, serif">3+</text><text x="1547.4" y="863" font-size="77" letter-spacing="4.4">Ce</text><text transform="translate(1649.2,818.3) scale(0.95,1)" font-size="56" font-family="Liberation Serif, serif">4+</text><text x="1694.3" y="134" font-size="77" letter-spacing="4.4">Ce</text><text transform="translate(1796.1,89.3) scale(0.95,1)" font-size="56" font-family="Liberation Serif, serif">3+</text><text x="1947.4" y="371.8" font-size="77" letter-spacing="4.4">Ce</text><text transform="translate(2049.2,327.1) scale(0.95,1)" font-size="56" font-family="Liberation Serif, serif">4+</text><text x="2004.3" y="1051.8" font-size="77" letter-spacing="4.4">Ce</text><text transform="translate(2106.1,1007.1) scale(0.95,1)" font-size="56" font-family="Liberation Serif, serif">3+</text></g>
</svg>
</body></html>
